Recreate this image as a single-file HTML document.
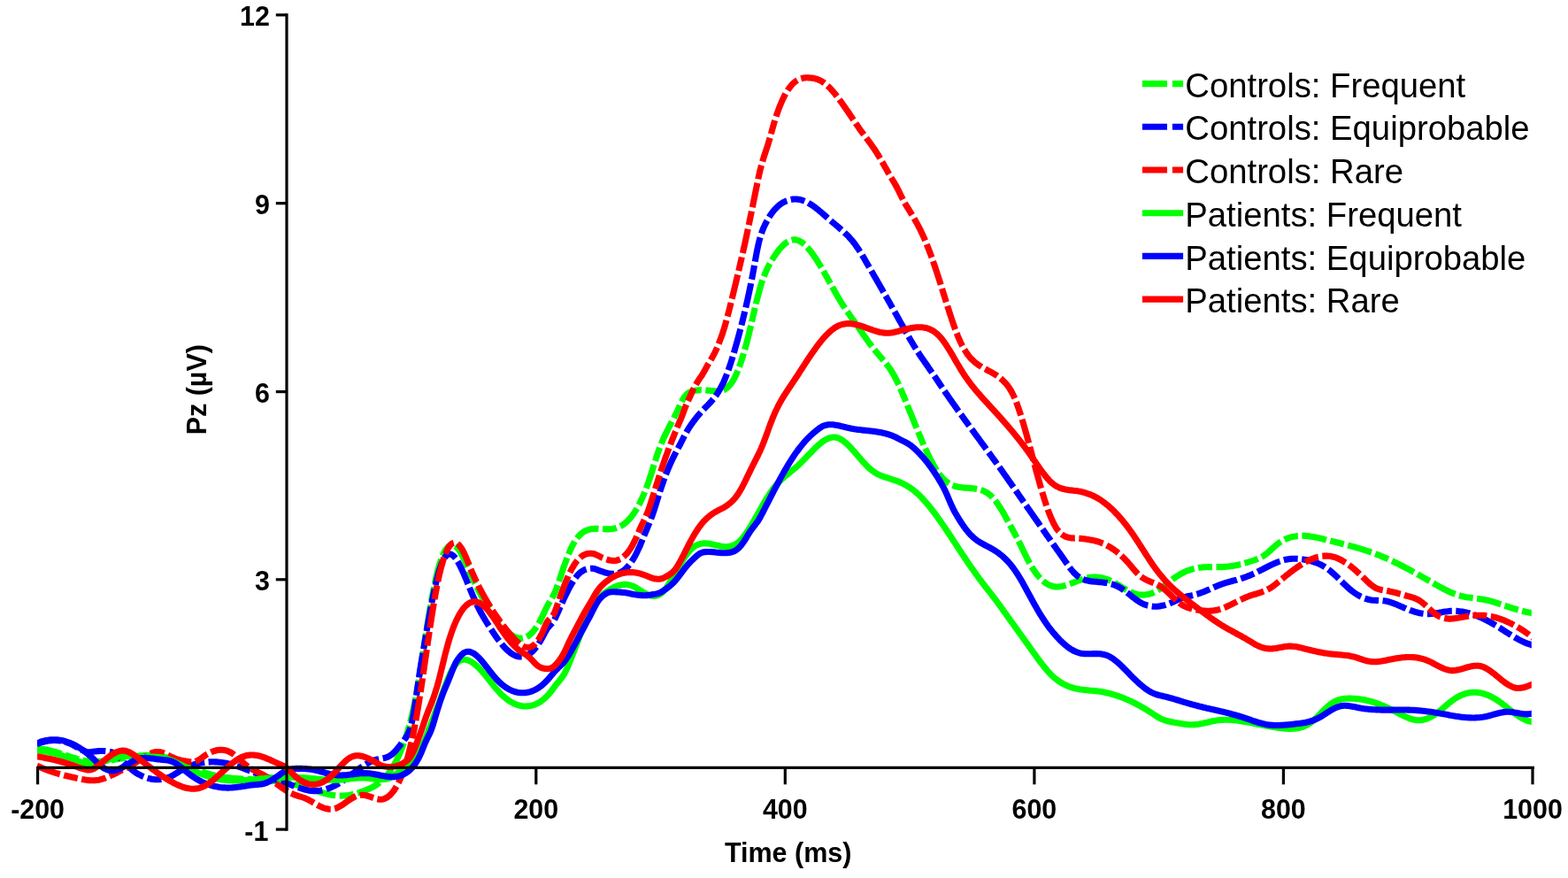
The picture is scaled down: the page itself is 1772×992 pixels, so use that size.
<!DOCTYPE html>
<html lang="en"><head><meta charset="utf-8"><title>Pz ERP</title>
<style>
html,body{margin:0;padding:0;background:#fff;}
body{width:1772px;height:992px;overflow:hidden;}
svg{display:block;}
text{font-family:"Liberation Sans",Arial,Helvetica,sans-serif;fill:#000;}
.b{font-weight:bold;font-size:30.4px;}
.l{font-size:38.27px;}
.c{fill:none;stroke-width:7.1;stroke-linejoin:round;stroke-linecap:butt;}
.d{stroke-dasharray:28 4.5 16 4.5;}
.ax{stroke:#000;stroke-width:3.2;fill:none;stroke-linecap:butt;}
</style></head>
<body>
<svg width="1772" height="992" viewBox="0 0 1772 992">
<rect width="1772" height="992" fill="#fff"/>
<defs><clipPath id="cp"><rect x="42.1" y="0" width="1688.7" height="992"/></clipPath></defs>
<g clip-path="url(#cp)">
<path class="c d" stroke="#00ff00" stroke-dashoffset="-4" d="M38.1,846.2 42.1,846.0 43.6,846.1 45.1,846.2 46.6,846.3 48.1,846.4 49.6,846.6 51.1,846.9 52.6,847.1 54.1,847.4 55.6,847.7 57.1,848.1 58.6,848.5 60.1,848.9 61.6,849.3 63.1,849.7 64.6,850.2 66.1,850.6 67.6,851.1 69.1,851.6 70.6,852.1 72.1,852.6 73.6,853.1 75.1,853.6 76.6,854.1 78.1,854.6 79.6,855.1 81.1,855.6 82.6,856.0 84.1,856.5 85.6,856.9 87.1,857.4 88.6,857.8 90.1,858.2 91.6,858.5 93.1,858.9 94.6,859.2 96.1,859.5 97.6,859.7 99.1,859.9 100.6,860.1 102.1,860.2 103.6,860.4 105.1,860.4 106.6,860.5 108.1,860.5 109.6,860.5 111.1,860.4 112.7,860.4 114.2,860.3 115.7,860.1 117.2,860.0 118.7,859.8 120.2,859.7 121.7,859.5 123.2,859.3 124.7,859.1 126.2,858.8 127.7,858.6 129.2,858.3 130.7,858.1 132.2,857.8 133.7,857.5 135.2,857.3 136.7,857.0 138.2,856.7 139.7,856.5 141.2,856.2 142.7,856.0 144.2,855.7 145.7,855.5 147.2,855.2 148.7,855.0 150.2,854.8 151.7,854.6 153.2,854.4 154.7,854.2 156.2,854.1 157.7,853.9 159.2,853.8 160.7,853.7 162.2,853.6 163.7,853.5 165.2,853.4 166.7,853.4 168.2,853.4 169.7,853.4 171.2,853.4 172.7,853.5 174.2,853.6 175.7,853.7 177.2,853.9 178.7,854.0 180.2,854.2 181.7,854.5 183.2,854.7 184.7,855.0 186.2,855.4 187.7,855.7 189.2,856.2 190.7,856.6 192.2,857.0 193.7,857.5 195.2,858.0 196.7,858.6 198.2,859.1 199.7,859.7 201.2,860.3 202.7,860.9 204.2,861.5 205.7,862.1 207.2,862.8 208.7,863.4 210.2,864.1 211.7,864.7 213.2,865.4 214.7,866.0 216.2,866.7 217.7,867.4 219.2,868.0 220.7,868.6 222.2,869.3 223.7,869.9 225.2,870.5 226.7,871.1 228.2,871.7 229.7,872.3 231.2,872.8 232.7,873.3 234.2,873.8 235.7,874.3 237.2,874.7 238.7,875.2 240.2,875.6 241.7,875.9 243.2,876.3 244.7,876.6 246.2,876.9 247.7,877.2 249.2,877.5 250.7,877.8 252.2,878.0 253.8,878.2 255.3,878.4 256.8,878.6 258.3,878.8 259.8,879.0 261.3,879.1 262.8,879.2 264.3,879.4 265.8,879.5 267.3,879.6 268.8,879.7 270.3,879.8 271.8,879.9 273.3,880.0 274.8,880.1 276.3,880.1 277.8,880.2 279.3,880.3 280.8,880.4 282.3,880.4 283.8,880.5 285.3,880.6 286.8,880.6 288.3,880.7 289.8,880.8 291.3,880.9 292.8,881.0 294.3,881.1 295.8,881.2 297.3,881.3 298.8,881.4 300.3,881.5 301.8,881.6 303.3,881.8 304.8,881.9 306.3,882.1 307.8,882.2 309.3,882.4 310.8,882.6 312.3,882.8 313.8,882.9 315.3,883.1 316.8,883.4 318.3,883.6 319.8,883.8 321.3,884.1 322.8,884.3 324.3,884.6 325.8,884.8 327.3,885.1 328.8,885.4 330.3,885.7 331.8,886.1 333.3,886.4 334.8,886.7 336.3,887.1 337.8,887.5 339.3,887.9 340.8,888.3 342.3,888.7 343.8,889.1 345.3,889.6 346.8,890.0 348.3,890.5 349.8,891.0 351.3,891.5 352.8,892.0 354.3,892.5 355.8,893.0 357.3,893.5 358.8,894.0 360.3,894.4 361.8,894.9 363.3,895.4 364.8,895.8 366.3,896.2 367.8,896.6 369.3,897.0 370.8,897.4 372.3,897.7 373.8,898.0 375.3,898.3 376.8,898.5 378.3,898.7 379.8,898.9 381.3,899.0 382.8,899.1 384.3,899.1 385.8,899.1 387.3,899.0 388.8,899.0 390.3,898.8 391.8,898.7 393.3,898.5 394.9,898.2 396.4,898.0 397.9,897.7 399.4,897.3 400.9,897.0 402.4,896.6 403.9,896.1 405.4,895.7 406.9,895.2 408.4,894.7 409.9,894.1 411.4,893.6 412.9,893.0 414.4,892.4 415.9,891.7 417.4,891.1 418.9,890.4 420.4,889.6 421.9,888.8 423.4,888.0 424.9,887.0 426.4,886.1 427.9,885.0 429.4,883.8 430.9,882.6 432.4,881.2 433.9,879.8 435.4,878.2 436.9,876.5 438.4,874.6 439.9,872.7 441.4,870.5 442.9,868.2 444.4,865.8 445.9,863.2 447.4,860.4 448.9,857.4 450.4,854.2 451.9,850.8 453.4,847.2 454.9,843.4 456.4,839.3 457.9,835.1 459.4,830.5 460.9,825.7 462.4,820.6 463.9,815.0 465.4,809.0 466.9,802.5 468.4,795.4 469.9,787.8 471.4,779.5 472.9,770.7 474.4,761.4 475.9,751.9 477.4,742.1 478.9,732.3 480.4,722.6 481.9,713.0 483.4,703.6 484.9,694.5 486.4,685.6 487.9,677.2 489.4,669.2 490.9,661.6 492.4,654.5 493.9,648.1 495.4,642.2 496.9,637.0 498.4,632.4 499.9,628.4 501.4,625.1 502.9,622.3 504.4,620.0 505.9,618.3 507.4,617.0 508.9,616.2 510.4,615.9 511.9,616.0 513.4,616.4 514.9,617.3 516.4,618.6 517.9,620.2 519.4,622.3 520.9,624.7 522.4,627.5 523.9,630.6 525.4,633.9 526.9,637.3 528.4,640.8 529.9,644.3 531.4,647.8 532.9,651.1 534.4,654.4 536.0,657.6 537.5,660.6 539.0,663.6 540.5,666.6 542.0,669.4 543.5,672.1 545.0,674.8 546.5,677.4 548.0,680.0 549.5,682.5 551.0,684.9 552.5,687.2 554.0,689.5 555.5,691.8 557.0,694.0 558.5,696.1 560.0,698.2 561.5,700.3 563.0,702.2 564.5,704.1 566.0,706.0 567.5,707.7 569.0,709.4 570.5,711.0 572.0,712.5 573.5,713.9 575.0,715.2 576.5,716.4 578.0,717.4 579.5,718.4 581.0,719.2 582.5,719.9 584.0,720.4 585.5,720.8 587.0,721.1 588.5,721.1 590.0,721.1 591.5,720.8 593.0,720.4 594.5,719.8 596.0,719.0 597.5,718.1 599.0,716.9 600.5,715.6 602.0,714.0 603.5,712.2 605.0,710.2 606.5,708.0 608.0,705.6 609.5,703.0 611.0,700.2 612.5,697.2 614.0,694.1 615.5,690.7 617.0,687.6 618.5,684.7 620.0,682.0 621.5,679.5 623.0,677.0 624.5,674.4 626.0,671.5 627.5,668.2 629.0,664.5 630.5,660.2 632.0,655.8 633.5,651.3 635.0,646.9 636.5,642.5 638.0,638.2 639.5,634.1 641.0,630.1 642.5,626.2 644.0,622.6 645.5,619.3 647.0,616.2 648.5,613.5 650.0,611.0 651.5,608.8 653.0,606.9 654.5,605.2 656.0,603.7 657.5,602.4 659.0,601.3 660.5,600.4 662.0,599.6 663.5,599.0 665.0,598.5 666.5,598.1 668.0,597.8 669.5,597.6 671.0,597.5 672.5,597.4 674.0,597.4 675.6,597.4 677.1,597.5 678.6,597.6 680.1,597.6 681.6,597.7 683.1,597.8 684.6,597.9 686.1,597.9 687.6,597.9 689.1,597.8 690.6,597.7 692.1,597.5 693.6,597.3 695.1,596.9 696.6,596.5 698.1,595.9 699.6,595.3 701.1,594.6 702.6,593.7 704.1,592.8 705.6,591.7 707.1,590.5 708.6,589.1 710.1,587.6 711.6,586.0 713.1,584.3 714.6,582.3 716.1,580.2 717.6,578.0 719.1,575.6 720.6,573.0 722.1,570.2 723.6,567.3 725.1,564.1 726.6,560.8 728.1,557.3 729.6,553.5 731.1,549.6 732.6,545.4 734.1,541.0 735.6,536.4 737.1,531.6 738.6,526.8 740.1,522.0 741.6,517.3 743.1,512.7 744.6,508.4 746.1,504.4 747.6,500.6 749.1,497.1 750.6,493.7 752.1,490.6 753.6,487.5 755.1,484.5 756.6,481.6 758.1,478.7 759.6,475.9 761.1,473.0 762.6,470.0 764.1,467.0 765.6,464.0 767.1,460.8 768.6,457.5 770.1,454.4 771.6,451.5 773.1,449.0 774.6,447.1 776.1,445.5 777.6,444.3 779.1,443.4 780.6,442.7 782.1,442.2 783.6,441.7 785.1,441.4 786.6,441.1 788.1,440.9 789.6,440.7 791.1,440.6 792.6,440.6 794.1,440.7 795.6,440.7 797.1,440.8 798.6,441.0 800.1,441.1 801.6,441.3 803.1,441.4 804.6,441.6 806.1,441.8 807.6,441.9 809.1,442.0 810.6,442.0 812.1,442.0 813.6,441.8 815.1,441.5 816.7,441.0 818.2,440.4 819.7,439.6 821.2,438.6 822.7,437.3 824.2,435.8 825.7,434.0 827.2,431.9 828.7,429.5 830.2,426.7 831.7,423.6 833.2,420.2 834.7,416.5 836.2,412.4 837.7,408.1 839.2,403.4 840.7,398.5 842.2,393.2 843.7,387.7 845.2,381.9 846.7,375.8 848.2,369.5 849.7,363.0 851.2,356.5 852.7,350.1 854.2,343.7 855.7,337.6 857.2,331.8 858.7,326.3 860.2,321.2 861.7,316.7 863.2,312.5 864.7,308.8 866.2,305.3 867.7,302.2 869.2,299.3 870.7,296.6 872.2,294.1 873.7,291.7 875.2,289.4 876.7,287.2 878.2,285.1 879.7,283.1 881.2,281.3 882.7,279.5 884.2,278.0 885.7,276.5 887.2,275.2 888.7,274.1 890.2,273.1 891.7,272.3 893.2,271.6 894.7,271.2 896.2,270.9 897.7,270.8 899.2,270.9 900.7,271.3 902.2,271.8 903.7,272.5 905.2,273.3 906.7,274.3 908.2,275.5 909.7,276.8 911.2,278.3 912.7,279.9 914.2,281.6 915.7,283.5 917.2,285.4 918.7,287.5 920.2,289.6 921.7,291.8 923.2,294.1 924.7,296.5 926.2,299.0 927.7,301.5 929.2,304.0 930.7,306.6 932.2,309.2 933.7,311.9 935.2,314.5 936.7,317.2 938.2,319.9 939.7,322.6 941.2,325.3 942.7,328.0 944.2,330.7 945.7,333.4 947.2,336.0 948.7,338.5 950.2,341.0 951.7,343.4 953.2,345.7 954.7,348.0 956.2,350.3 957.8,352.4 959.3,354.6 960.8,356.7 962.3,358.9 963.8,361.0 965.3,363.1 966.8,365.2 968.3,367.3 969.8,369.5 971.3,371.6 972.8,373.8 974.3,376.0 975.8,378.3 977.3,380.4 978.8,382.6 980.3,384.7 981.8,386.8 983.3,388.8 984.8,390.8 986.3,392.7 987.8,394.6 989.3,396.4 990.8,398.2 992.3,400.0 993.8,401.8 995.3,403.5 996.8,405.3 998.3,407.0 999.8,408.8 1001.3,410.7 1002.8,412.6 1004.3,414.6 1005.8,416.8 1007.3,419.1 1008.8,421.5 1010.3,424.1 1011.8,426.8 1013.3,429.8 1014.8,432.9 1016.3,436.1 1017.8,439.5 1019.3,443.0 1020.8,446.5 1022.3,450.2 1023.8,453.9 1025.3,457.6 1026.8,461.3 1028.3,465.1 1029.8,468.7 1031.3,472.4 1032.8,476.1 1034.3,479.8 1035.8,483.4 1037.3,487.1 1038.8,490.8 1040.3,494.4 1041.8,497.9 1043.3,501.4 1044.8,504.8 1046.3,508.2 1047.8,511.4 1049.3,514.5 1050.8,517.6 1052.3,520.5 1053.8,523.3 1055.3,526.0 1056.8,528.5 1058.3,530.9 1059.8,533.2 1061.3,535.3 1062.8,537.3 1064.3,539.1 1065.8,540.8 1067.3,542.2 1068.8,543.6 1070.3,544.8 1071.8,545.8 1073.3,546.7 1074.8,547.5 1076.3,548.2 1077.8,548.8 1079.3,549.3 1080.8,549.8 1082.3,550.1 1083.8,550.4 1085.3,550.6 1086.8,550.8 1088.3,551.0 1089.8,551.1 1091.3,551.2 1092.8,551.3 1094.3,551.4 1095.8,551.5 1097.3,551.6 1098.9,551.8 1100.4,551.9 1101.9,552.1 1103.4,552.4 1104.9,552.7 1106.4,553.0 1107.9,553.4 1109.4,553.9 1110.9,554.5 1112.4,555.1 1113.9,555.9 1115.4,556.8 1116.9,557.8 1118.4,558.9 1119.9,560.2 1121.4,561.7 1122.9,563.3 1124.4,565.2 1125.9,567.1 1127.4,569.2 1128.9,571.4 1130.4,573.8 1131.9,576.2 1133.4,578.7 1134.9,581.3 1136.4,584.0 1137.9,586.7 1139.4,589.4 1140.9,592.2 1142.4,595.0 1143.9,597.8 1145.4,600.5 1146.9,603.3 1148.4,606.1 1149.9,608.9 1151.4,611.9 1152.9,614.8 1154.4,617.9 1155.9,621.0 1157.4,624.1 1158.9,627.2 1160.4,630.3 1161.9,633.2 1163.4,636.0 1164.9,638.6 1166.4,641.1 1167.9,643.5 1169.4,645.7 1170.9,647.8 1172.4,649.7 1173.9,651.5 1175.4,653.2 1176.9,654.7 1178.4,656.1 1179.9,657.4 1181.4,658.5 1182.9,659.5 1184.4,660.4 1185.9,661.1 1187.4,661.7 1188.9,662.2 1190.4,662.6 1191.9,662.9 1193.4,663.0 1194.9,663.0 1196.4,663.0 1197.9,662.8 1199.4,662.6 1200.9,662.3 1202.4,661.9 1203.9,661.5 1205.4,661.0 1206.9,660.5 1208.4,660.0 1209.9,659.4 1211.4,658.9 1212.9,658.3 1214.4,657.7 1215.9,657.1 1217.4,656.5 1218.9,656.0 1220.4,655.4 1221.9,654.9 1223.4,654.4 1224.9,653.9 1226.4,653.5 1227.9,653.1 1229.4,652.8 1230.9,652.5 1232.4,652.3 1233.9,652.2 1235.4,652.1 1236.9,652.0 1238.5,652.1 1240.0,652.2 1241.5,652.3 1243.0,652.5 1244.5,652.8 1246.0,653.1 1247.5,653.5 1249.0,653.9 1250.5,654.4 1252.0,654.9 1253.5,655.5 1255.0,656.2 1256.5,656.9 1258.0,657.7 1259.5,658.5 1261.0,659.4 1262.5,660.2 1264.0,661.1 1265.5,662.0 1267.0,663.0 1268.5,663.9 1270.0,664.8 1271.5,665.6 1273.0,666.5 1274.5,667.3 1276.0,668.1 1277.5,668.8 1279.0,669.4 1280.5,670.0 1282.0,670.5 1283.5,671.0 1285.0,671.4 1286.5,671.7 1288.0,671.9 1289.5,672.0 1291.0,672.1 1292.5,672.1 1294.0,672.0 1295.5,671.8 1297.0,671.6 1298.5,671.3 1300.0,670.8 1301.5,670.3 1303.0,669.8 1304.5,669.1 1306.0,668.3 1307.5,667.5 1309.0,666.6 1310.5,665.6 1312.0,664.6 1313.5,663.5 1315.0,662.4 1316.5,661.3 1318.0,660.1 1319.5,659.0 1321.0,657.8 1322.5,656.6 1324.0,655.5 1325.5,654.3 1327.0,653.2 1328.5,652.1 1330.0,651.1 1331.5,650.2 1333.0,649.2 1334.5,648.4 1336.0,647.6 1337.5,646.8 1339.0,646.1 1340.5,645.4 1342.0,644.8 1343.5,644.3 1345.0,643.8 1346.5,643.3 1348.0,642.9 1349.5,642.5 1351.0,642.1 1352.5,641.8 1354.0,641.6 1355.5,641.3 1357.0,641.2 1358.5,641.0 1360.0,640.9 1361.5,640.8 1363.0,640.7 1364.5,640.7 1366.0,640.6 1367.5,640.6 1369.0,640.6 1370.5,640.6 1372.0,640.6 1373.5,640.6 1375.0,640.6 1376.5,640.6 1378.0,640.6 1379.6,640.6 1381.1,640.6 1382.6,640.5 1384.1,640.4 1385.6,640.3 1387.1,640.2 1388.6,640.0 1390.1,639.8 1391.6,639.6 1393.1,639.4 1394.6,639.1 1396.1,638.9 1397.6,638.6 1399.1,638.2 1400.6,637.9 1402.1,637.5 1403.6,637.2 1405.1,636.8 1406.6,636.3 1408.1,635.9 1409.6,635.5 1411.1,635.0 1412.6,634.5 1414.1,634.0 1415.6,633.5 1417.1,633.0 1418.6,632.5 1420.1,631.9 1421.6,631.3 1423.1,630.6 1424.6,629.9 1426.1,629.1 1427.6,628.2 1429.1,627.2 1430.6,626.1 1432.1,624.9 1433.6,623.6 1435.1,622.3 1436.6,620.9 1438.1,619.5 1439.6,618.2 1441.1,616.8 1442.6,615.6 1444.1,614.4 1445.6,613.3 1447.1,612.3 1448.6,611.4 1450.1,610.5 1451.6,609.7 1453.1,609.0 1454.6,608.4 1456.1,607.8 1457.6,607.3 1459.1,606.9 1460.6,606.5 1462.1,606.2 1463.6,605.9 1465.1,605.7 1466.6,605.5 1468.1,605.4 1469.6,605.3 1471.1,605.3 1472.6,605.3 1474.1,605.4 1475.6,605.5 1477.1,605.6 1478.6,605.8 1480.1,605.9 1481.6,606.2 1483.1,606.4 1484.6,606.7 1486.1,607.0 1487.6,607.3 1489.1,607.6 1490.6,607.9 1492.1,608.3 1493.6,608.6 1495.1,609.0 1496.6,609.4 1498.1,609.7 1499.6,610.1 1501.1,610.5 1502.6,610.8 1504.1,611.2 1505.6,611.6 1507.1,611.9 1508.6,612.3 1510.1,612.7 1511.6,613.1 1513.1,613.4 1514.6,613.8 1516.1,614.2 1517.6,614.6 1519.1,615.0 1520.7,615.4 1522.2,615.7 1523.7,616.1 1525.2,616.5 1526.7,617.0 1528.2,617.4 1529.7,617.8 1531.2,618.2 1532.7,618.6 1534.2,619.1 1535.7,619.5 1537.2,620.0 1538.7,620.4 1540.2,620.9 1541.7,621.4 1543.2,621.9 1544.7,622.3 1546.2,622.8 1547.7,623.4 1549.2,623.9 1550.7,624.4 1552.2,625.0 1553.7,625.5 1555.2,626.1 1556.7,626.7 1558.2,627.2 1559.7,627.8 1561.2,628.5 1562.7,629.1 1564.2,629.7 1565.7,630.4 1567.2,631.0 1568.7,631.7 1570.2,632.4 1571.7,633.1 1573.2,633.8 1574.7,634.5 1576.2,635.2 1577.7,636.0 1579.2,636.7 1580.7,637.4 1582.2,638.2 1583.7,639.0 1585.2,639.7 1586.7,640.5 1588.2,641.3 1589.7,642.1 1591.2,642.9 1592.7,643.7 1594.2,644.5 1595.7,645.3 1597.2,646.2 1598.7,647.0 1600.2,647.8 1601.7,648.6 1603.2,649.5 1604.7,650.3 1606.2,651.2 1607.7,652.0 1609.2,652.9 1610.7,653.7 1612.2,654.6 1613.7,655.4 1615.2,656.3 1616.7,657.1 1618.2,658.0 1619.7,658.9 1621.2,659.7 1622.7,660.6 1624.2,661.4 1625.7,662.3 1627.2,663.1 1628.7,663.9 1630.2,664.7 1631.7,665.5 1633.2,666.3 1634.7,667.0 1636.2,667.8 1637.7,668.5 1639.2,669.2 1640.7,669.8 1642.2,670.4 1643.7,671.0 1645.2,671.6 1646.7,672.1 1648.2,672.6 1649.7,673.0 1651.2,673.4 1652.7,673.8 1654.2,674.1 1655.7,674.4 1657.2,674.7 1658.7,674.9 1660.2,675.1 1661.8,675.3 1663.3,675.5 1664.8,675.7 1666.3,675.9 1667.8,676.1 1669.3,676.3 1670.8,676.5 1672.3,676.7 1673.8,676.9 1675.3,677.1 1676.8,677.4 1678.3,677.7 1679.8,678.0 1681.3,678.3 1682.8,678.7 1684.3,679.1 1685.8,679.5 1687.3,679.9 1688.8,680.3 1690.3,680.8 1691.8,681.3 1693.3,681.8 1694.8,682.3 1696.3,682.8 1697.8,683.3 1699.3,683.8 1700.8,684.3 1702.3,684.8 1703.8,685.3 1705.3,685.8 1706.8,686.3 1708.3,686.8 1709.8,687.3 1711.3,687.8 1712.8,688.2 1714.3,688.7 1715.8,689.1 1717.3,689.5 1718.8,689.9 1720.3,690.3 1721.8,690.7 1723.3,691.1 1724.8,691.4 1726.3,691.7 1727.8,692.0 1729.3,692.3 1730.8,692.6 1734.8,693.3"/>
<path class="c d" stroke="#0000ff" stroke-dashoffset="-4" d="M38.1,842.3 42.1,840.6 43.6,840.0 45.1,839.5 46.6,839.0 48.1,838.5 49.6,838.1 51.1,837.7 52.6,837.4 54.1,837.1 55.6,836.9 57.1,836.7 58.6,836.6 60.1,836.5 61.6,836.5 63.1,836.5 64.6,836.6 66.1,836.7 67.6,836.9 69.1,837.1 70.6,837.4 72.1,837.8 73.6,838.2 75.1,838.6 76.6,839.1 78.1,839.7 79.6,840.4 81.1,841.1 82.6,841.8 84.1,842.6 85.6,843.5 87.1,844.3 88.6,845.2 90.1,846.0 91.6,846.8 93.1,847.6 94.6,848.3 96.1,848.9 97.6,849.4 99.1,849.7 100.6,849.8 102.1,849.7 103.6,849.5 105.1,849.3 106.6,849.1 108.1,848.9 109.6,848.7 111.1,848.6 112.7,848.5 114.2,848.5 115.7,848.5 117.2,848.5 118.7,848.6 120.2,848.7 121.7,848.9 123.2,849.1 124.7,849.4 126.2,849.8 127.7,850.4 129.2,851.1 130.7,852.0 132.2,853.2 133.7,854.5 135.2,856.0 136.7,857.6 138.2,859.2 139.7,860.9 141.2,862.5 142.7,864.0 144.2,865.4 145.7,866.8 147.2,868.1 148.7,869.4 150.2,870.6 151.7,871.7 153.2,872.7 154.7,873.7 156.2,874.6 157.7,875.4 159.2,876.2 160.7,876.9 162.2,877.5 163.7,878.1 165.2,878.6 166.7,879.1 168.2,879.5 169.7,879.8 171.2,880.2 172.7,880.4 174.2,880.6 175.7,880.7 177.2,880.8 178.7,880.8 180.2,880.8 181.7,880.6 183.2,880.4 184.7,880.2 186.2,879.8 187.7,879.4 189.2,878.9 190.7,878.3 192.2,877.7 193.7,876.9 195.2,876.1 196.7,875.3 198.2,874.3 199.7,873.4 201.2,872.5 202.7,871.5 204.2,870.6 205.7,869.7 207.2,868.9 208.7,868.1 210.2,867.3 211.7,866.6 213.2,866.0 214.7,865.4 216.2,864.8 217.7,864.3 219.2,863.8 220.7,863.4 222.2,863.0 223.7,862.7 225.2,862.3 226.7,862.0 228.2,861.8 229.7,861.6 231.2,861.4 232.7,861.2 234.2,861.1 235.7,860.9 237.2,860.9 238.7,860.8 240.2,860.8 241.7,860.8 243.2,860.9 244.7,860.9 246.2,861.0 247.7,861.2 249.2,861.3 250.7,861.5 252.2,861.7 253.8,862.0 255.3,862.3 256.8,862.6 258.3,862.9 259.8,863.3 261.3,863.7 262.8,864.1 264.3,864.5 265.8,865.0 267.3,865.4 268.8,865.9 270.3,866.4 271.8,866.9 273.3,867.5 274.8,868.0 276.3,868.6 277.8,869.1 279.3,869.7 280.8,870.3 282.3,870.9 283.8,871.4 285.3,872.0 286.8,872.6 288.3,873.2 289.8,873.7 291.3,874.3 292.8,874.9 294.3,875.4 295.8,876.0 297.3,876.5 298.8,877.0 300.3,877.5 301.8,878.0 303.3,878.5 304.8,879.0 306.3,879.4 307.8,879.9 309.3,880.3 310.8,880.8 312.3,881.2 313.8,881.7 315.3,882.1 316.8,882.6 318.3,883.0 319.8,883.5 321.3,884.0 322.8,884.5 324.3,885.0 325.8,885.6 327.3,886.1 328.8,886.7 330.3,887.3 331.8,887.8 333.3,888.4 334.8,888.9 336.3,889.5 337.8,890.0 339.3,890.5 340.8,891.0 342.3,891.5 343.8,891.9 345.3,892.3 346.8,892.6 348.3,892.9 349.8,893.2 351.3,893.4 352.8,893.5 354.3,893.6 355.8,893.6 357.3,893.6 358.8,893.5 360.3,893.4 361.8,893.2 363.3,892.9 364.8,892.6 366.3,892.3 367.8,891.9 369.3,891.4 370.8,890.9 372.3,890.4 373.8,889.8 375.3,889.1 376.8,888.4 378.3,887.7 379.8,886.9 381.3,886.0 382.8,885.2 384.3,884.2 385.8,883.3 387.3,882.3 388.8,881.2 390.3,880.2 391.8,879.1 393.3,878.0 394.9,876.8 396.4,875.7 397.9,874.5 399.4,873.4 400.9,872.3 402.4,871.1 403.9,870.0 405.4,868.9 406.9,867.8 408.4,866.8 409.9,865.8 411.4,864.8 412.9,863.8 414.4,862.9 415.9,862.1 417.4,861.3 418.9,860.6 420.4,859.9 421.9,859.3 423.4,858.8 424.9,858.4 426.4,858.0 427.9,857.7 429.4,857.4 430.9,857.2 432.4,856.9 433.9,856.6 435.4,856.2 436.9,855.7 438.4,855.1 439.9,854.3 441.4,853.4 442.9,852.3 444.4,851.0 445.9,849.5 447.4,847.9 448.9,846.1 450.4,844.3 451.9,842.4 453.4,840.4 454.9,838.5 456.4,836.6 457.9,834.5 459.4,832.2 460.9,829.5 462.4,826.2 463.9,822.0 465.4,816.2 466.9,808.9 468.4,800.2 469.9,790.4 471.4,779.9 472.9,769.4 474.4,759.2 475.9,749.8 477.4,740.9 478.9,732.0 480.4,723.0 481.9,714.2 483.4,705.6 484.9,697.1 486.4,689.0 487.9,681.1 489.4,673.6 490.9,666.4 492.4,659.8 493.9,653.6 495.4,648.1 496.9,643.1 498.4,638.7 499.9,635.0 501.4,631.9 502.9,629.5 504.4,627.7 505.9,626.6 507.4,626.0 508.9,626.0 510.4,626.6 511.9,627.6 513.4,629.0 514.9,630.8 516.4,633.0 517.9,635.5 519.4,638.3 520.9,641.3 522.4,644.6 523.9,647.9 525.4,651.4 526.9,655.0 528.4,658.6 529.9,662.3 531.4,666.0 532.9,669.7 534.4,673.2 536.0,676.7 537.5,680.1 539.0,683.4 540.5,686.4 542.0,689.4 543.5,692.2 545.0,694.9 546.5,697.5 548.0,700.0 549.5,702.5 551.0,704.9 552.5,707.2 554.0,709.5 555.5,711.8 557.0,714.1 558.5,716.3 560.0,718.5 561.5,720.6 563.0,722.6 564.5,724.6 566.0,726.5 567.5,728.4 569.0,730.1 570.5,731.8 572.0,733.3 573.5,734.7 575.0,736.1 576.5,737.3 578.0,738.4 579.5,739.3 581.0,740.1 582.5,740.8 584.0,741.3 585.5,741.7 587.0,741.9 588.5,742.0 590.0,742.0 591.5,741.8 593.0,741.4 594.5,740.8 596.0,740.1 597.5,739.3 599.0,738.2 600.5,737.0 602.0,735.7 603.5,734.1 605.0,732.4 606.5,730.5 608.0,728.4 609.5,726.1 611.0,723.6 612.5,721.0 614.0,718.2 615.5,715.4 617.0,712.5 618.5,710.1 620.0,708.2 621.5,706.6 623.0,705.1 624.5,703.3 626.0,701.2 627.5,698.4 629.0,695.1 630.5,691.7 632.0,688.3 633.5,685.0 635.0,681.6 636.5,678.3 638.0,675.1 639.5,671.9 641.0,668.9 642.5,665.9 644.0,663.1 645.5,660.4 647.0,657.9 648.5,655.5 650.0,653.3 651.5,651.3 653.0,649.6 654.5,648.1 656.0,646.7 657.5,645.6 659.0,644.7 660.5,643.9 662.0,643.3 663.5,642.8 665.0,642.5 666.5,642.3 668.0,642.2 669.5,642.3 671.0,642.5 672.5,642.8 674.0,643.3 675.6,644.0 677.1,644.6 678.6,645.2 680.1,645.7 681.6,646.2 683.1,646.7 684.6,647.1 686.1,647.5 687.6,647.8 689.1,648.0 690.6,648.2 692.1,648.3 693.6,648.4 695.1,648.3 696.6,648.1 698.1,647.7 699.6,647.3 701.1,646.7 702.6,645.9 704.1,645.0 705.6,643.9 707.1,642.6 708.6,641.1 710.1,639.4 711.6,637.6 713.1,635.5 714.6,633.3 716.1,630.8 717.6,628.2 719.1,625.4 720.6,622.3 722.1,619.1 723.6,615.7 725.1,612.0 726.6,608.3 728.1,604.7 729.6,601.1 731.1,597.6 732.6,594.0 734.1,590.4 735.6,586.6 737.1,582.5 738.6,578.2 740.1,573.5 741.6,568.6 743.1,563.8 744.6,559.1 746.1,554.4 747.6,549.9 749.1,545.5 750.6,541.2 752.1,537.2 753.6,533.3 755.1,529.7 756.6,526.1 758.1,522.8 759.6,519.5 761.1,516.4 762.6,513.4 764.1,510.6 765.6,507.8 767.1,504.9 768.6,502.0 770.1,499.1 771.6,496.1 773.1,493.2 774.6,490.3 776.1,487.6 777.6,485.1 779.1,482.7 780.6,480.5 782.1,478.4 783.6,476.3 785.1,474.3 786.6,472.4 788.1,470.5 789.6,468.7 791.1,467.0 792.6,465.3 794.1,463.6 795.6,462.1 797.1,460.5 798.6,459.0 800.1,457.5 801.6,455.9 803.1,454.3 804.6,452.6 806.1,450.8 807.6,448.9 809.1,446.9 810.6,444.7 812.1,442.3 813.6,439.7 815.1,437.0 816.7,433.9 818.2,430.7 819.7,427.1 821.2,423.3 822.7,419.3 824.2,415.0 825.7,410.5 827.2,405.8 828.7,400.9 830.2,395.8 831.7,390.6 833.2,385.2 834.7,379.7 836.2,374.1 837.7,368.3 839.2,362.4 840.7,356.2 842.2,349.9 843.7,343.4 845.2,336.7 846.7,329.7 848.2,322.5 849.7,315.0 851.2,307.1 852.7,298.8 854.2,290.4 855.7,282.4 857.2,275.4 858.7,269.5 860.2,264.5 861.7,260.3 863.2,256.7 864.7,253.5 866.2,250.6 867.7,247.8 869.2,245.3 870.7,243.0 872.2,240.8 873.7,238.8 875.2,237.0 876.7,235.4 878.2,233.9 879.7,232.5 881.2,231.3 882.7,230.2 884.2,229.3 885.7,228.4 887.2,227.7 888.7,227.0 890.2,226.5 891.7,226.0 893.2,225.6 894.7,225.3 896.2,225.1 897.7,225.0 899.2,225.0 900.7,225.1 902.2,225.3 903.7,225.5 905.2,225.9 906.7,226.3 908.2,226.8 909.7,227.4 911.2,228.1 912.7,228.8 914.2,229.7 915.7,230.6 917.2,231.5 918.7,232.5 920.2,233.6 921.7,234.7 923.2,235.9 924.7,237.1 926.2,238.4 927.7,239.6 929.2,240.9 930.7,242.2 932.2,243.5 933.7,244.8 935.2,246.2 936.7,247.5 938.2,248.8 939.7,250.1 941.2,251.4 942.7,252.6 944.2,253.9 945.7,255.1 947.2,256.4 948.7,257.7 950.2,259.0 951.7,260.3 953.2,261.7 954.7,263.1 956.2,264.5 957.8,266.1 959.3,267.6 960.8,269.3 962.3,271.0 963.8,272.8 965.3,274.7 966.8,276.7 968.3,278.9 969.8,281.1 971.3,283.4 972.8,285.8 974.3,288.2 975.8,290.7 977.3,293.3 978.8,295.8 980.3,298.4 981.8,301.0 983.3,303.6 984.8,306.2 986.3,308.8 987.8,311.4 989.3,314.0 990.8,316.6 992.3,319.2 993.8,321.8 995.3,324.4 996.8,327.0 998.3,329.7 999.8,332.3 1001.3,334.9 1002.8,337.6 1004.3,340.2 1005.8,342.9 1007.3,345.6 1008.8,348.3 1010.3,350.9 1011.8,353.6 1013.3,356.3 1014.8,359.0 1016.3,361.7 1017.8,364.4 1019.3,367.0 1020.8,369.7 1022.3,372.4 1023.8,375.0 1025.3,377.6 1026.8,380.3 1028.3,382.9 1029.8,385.5 1031.3,388.0 1032.8,390.5 1034.3,392.9 1035.8,395.3 1037.3,397.7 1038.8,399.9 1040.3,402.2 1041.8,404.4 1043.3,406.6 1044.8,408.8 1046.3,410.9 1047.8,413.1 1049.3,415.2 1050.8,417.4 1052.3,419.5 1053.8,421.7 1055.3,423.9 1056.8,426.1 1058.3,428.3 1059.8,430.5 1061.3,432.8 1062.8,435.0 1064.3,437.3 1065.8,439.5 1067.3,441.7 1068.8,443.9 1070.3,446.1 1071.8,448.2 1073.3,450.4 1074.8,452.6 1076.3,454.7 1077.8,456.8 1079.3,458.9 1080.8,461.1 1082.3,463.2 1083.8,465.3 1085.3,467.4 1086.8,469.4 1088.3,471.5 1089.8,473.6 1091.3,475.7 1092.8,477.7 1094.3,479.8 1095.8,481.9 1097.3,483.9 1098.9,486.0 1100.4,488.0 1101.9,490.1 1103.4,492.1 1104.9,494.2 1106.4,496.2 1107.9,498.3 1109.4,500.3 1110.9,502.3 1112.4,504.4 1113.9,506.5 1115.4,508.5 1116.9,510.6 1118.4,512.6 1119.9,514.7 1121.4,516.8 1122.9,518.8 1124.4,520.9 1125.9,523.0 1127.4,525.1 1128.9,527.2 1130.4,529.3 1131.9,531.4 1133.4,533.5 1134.9,535.7 1136.4,537.8 1137.9,539.9 1139.4,542.0 1140.9,544.2 1142.4,546.3 1143.9,548.5 1145.4,550.6 1146.9,552.8 1148.4,554.9 1149.9,557.1 1151.4,559.2 1152.9,561.4 1154.4,563.6 1155.9,565.7 1157.4,567.9 1158.9,570.0 1160.4,572.2 1161.9,574.4 1163.4,576.5 1164.9,578.7 1166.4,580.8 1167.9,583.0 1169.4,585.1 1170.9,587.3 1172.4,589.4 1173.9,591.6 1175.4,593.7 1176.9,595.9 1178.4,598.0 1179.9,600.1 1181.4,602.2 1182.9,604.4 1184.4,606.5 1185.9,608.6 1187.4,610.7 1188.9,612.8 1190.4,615.0 1191.9,617.1 1193.4,619.2 1194.9,621.4 1196.4,623.5 1197.9,625.6 1199.4,627.8 1200.9,629.9 1202.4,632.1 1203.9,634.3 1205.4,636.4 1206.9,638.5 1208.4,640.6 1209.9,642.6 1211.4,644.5 1212.9,646.2 1214.4,647.8 1215.9,649.2 1217.4,650.5 1218.9,651.6 1220.4,652.6 1221.9,653.5 1223.4,654.2 1224.9,654.8 1226.4,655.3 1227.9,655.8 1229.4,656.1 1230.9,656.4 1232.4,656.7 1233.9,656.9 1235.4,657.0 1236.9,657.2 1238.5,657.3 1240.0,657.4 1241.5,657.6 1243.0,657.7 1244.5,657.8 1246.0,658.0 1247.5,658.2 1249.0,658.4 1250.5,658.6 1252.0,658.9 1253.5,659.2 1255.0,659.6 1256.5,660.0 1258.0,660.4 1259.5,661.0 1261.0,661.6 1262.5,662.2 1264.0,663.0 1265.5,663.8 1267.0,664.7 1268.5,665.7 1270.0,666.7 1271.5,667.8 1273.0,669.0 1274.5,670.1 1276.0,671.3 1277.5,672.5 1279.0,673.7 1280.5,674.9 1282.0,676.0 1283.5,677.2 1285.0,678.2 1286.5,679.3 1288.0,680.2 1289.5,681.1 1291.0,681.9 1292.5,682.6 1294.0,683.2 1295.5,683.7 1297.0,684.2 1298.5,684.5 1300.0,684.8 1301.5,685.0 1303.0,685.2 1304.5,685.2 1306.0,685.2 1307.5,685.2 1309.0,685.1 1310.5,684.9 1312.0,684.6 1313.5,684.3 1315.0,684.0 1316.5,683.6 1318.0,683.1 1319.5,682.6 1321.0,682.1 1322.5,681.5 1324.0,680.9 1325.5,680.2 1327.0,679.5 1328.5,678.8 1330.0,678.1 1331.5,677.4 1333.0,676.8 1334.5,676.1 1336.0,675.5 1337.5,675.0 1339.0,674.6 1340.5,674.2 1342.0,673.8 1343.5,673.5 1345.0,673.2 1346.5,672.9 1348.0,672.6 1349.5,672.2 1351.0,671.8 1352.5,671.4 1354.0,670.9 1355.5,670.4 1357.0,669.9 1358.5,669.3 1360.0,668.7 1361.5,668.1 1363.0,667.5 1364.5,666.8 1366.0,666.2 1367.5,665.5 1369.0,664.8 1370.5,664.2 1372.0,663.5 1373.5,662.9 1375.0,662.2 1376.5,661.6 1378.0,661.0 1379.6,660.4 1381.1,659.9 1382.6,659.4 1384.1,658.9 1385.6,658.4 1387.1,658.0 1388.6,657.5 1390.1,657.1 1391.6,656.7 1393.1,656.3 1394.6,655.9 1396.1,655.5 1397.6,655.1 1399.1,654.6 1400.6,654.2 1402.1,653.8 1403.6,653.3 1405.1,652.8 1406.6,652.3 1408.1,651.8 1409.6,651.2 1411.1,650.7 1412.6,650.0 1414.1,649.4 1415.6,648.7 1417.1,648.0 1418.6,647.3 1420.1,646.6 1421.6,645.8 1423.1,645.1 1424.6,644.3 1426.1,643.6 1427.6,642.8 1429.1,642.0 1430.6,641.3 1432.1,640.5 1433.6,639.7 1435.1,639.0 1436.6,638.3 1438.1,637.6 1439.6,636.9 1441.1,636.3 1442.6,635.6 1444.1,635.0 1445.6,634.5 1447.1,634.0 1448.6,633.5 1450.1,633.0 1451.6,632.6 1453.1,632.3 1454.6,632.0 1456.1,631.7 1457.6,631.5 1459.1,631.4 1460.6,631.3 1462.1,631.2 1463.6,631.2 1465.1,631.3 1466.6,631.3 1468.1,631.4 1469.6,631.6 1471.1,631.8 1472.6,632.0 1474.1,632.2 1475.6,632.5 1477.1,632.8 1478.6,633.2 1480.1,633.5 1481.6,633.9 1483.1,634.3 1484.6,634.8 1486.1,635.3 1487.6,635.8 1489.1,636.4 1490.6,637.1 1492.1,637.8 1493.6,638.5 1495.1,639.4 1496.6,640.2 1498.1,641.2 1499.6,642.2 1501.1,643.3 1502.6,644.4 1504.1,645.7 1505.6,647.0 1507.1,648.3 1508.6,649.7 1510.1,651.1 1511.6,652.6 1513.1,654.1 1514.6,655.5 1516.1,657.0 1517.6,658.5 1519.1,660.0 1520.7,661.4 1522.2,662.8 1523.7,664.2 1525.2,665.5 1526.7,666.8 1528.2,667.9 1529.7,669.1 1531.2,670.1 1532.7,671.1 1534.2,672.1 1535.7,672.9 1537.2,673.8 1538.7,674.5 1540.2,675.2 1541.7,675.8 1543.2,676.3 1544.7,676.8 1546.2,677.2 1547.7,677.6 1549.2,677.9 1550.7,678.1 1552.2,678.2 1553.7,678.3 1555.2,678.4 1556.7,678.4 1558.2,678.5 1559.7,678.5 1561.2,678.5 1562.7,678.7 1564.2,678.8 1565.7,679.0 1567.2,679.3 1568.7,679.7 1570.2,680.1 1571.7,680.6 1573.2,681.1 1574.7,681.6 1576.2,682.2 1577.7,682.8 1579.2,683.4 1580.7,684.1 1582.2,684.7 1583.7,685.4 1585.2,686.0 1586.7,686.7 1588.2,687.3 1589.7,688.0 1591.2,688.6 1592.7,689.1 1594.2,689.7 1595.7,690.2 1597.2,690.7 1598.7,691.2 1600.2,691.6 1601.7,692.0 1603.2,692.4 1604.7,692.7 1606.2,693.0 1607.7,693.2 1609.2,693.4 1610.7,693.5 1612.2,693.6 1613.7,693.6 1615.2,693.6 1616.7,693.5 1618.2,693.4 1619.7,693.3 1621.2,693.1 1622.7,692.9 1624.2,692.6 1625.7,692.4 1627.2,692.1 1628.7,691.9 1630.2,691.6 1631.7,691.3 1633.2,691.1 1634.7,690.9 1636.2,690.7 1637.7,690.5 1639.2,690.4 1640.7,690.3 1642.2,690.3 1643.7,690.3 1645.2,690.3 1646.7,690.4 1648.2,690.6 1649.7,690.7 1651.2,690.9 1652.7,691.1 1654.2,691.4 1655.7,691.7 1657.2,692.1 1658.7,692.4 1660.2,692.8 1661.8,693.3 1663.3,693.7 1664.8,694.2 1666.3,694.8 1667.8,695.3 1669.3,695.9 1670.8,696.5 1672.3,697.2 1673.8,697.8 1675.3,698.5 1676.8,699.2 1678.3,700.0 1679.8,700.7 1681.3,701.5 1682.8,702.3 1684.3,703.1 1685.8,704.0 1687.3,704.8 1688.8,705.7 1690.3,706.6 1691.8,707.5 1693.3,708.5 1694.8,709.4 1696.3,710.4 1697.8,711.3 1699.3,712.3 1700.8,713.2 1702.3,714.2 1703.8,715.1 1705.3,716.1 1706.8,717.0 1708.3,717.9 1709.8,718.8 1711.3,719.7 1712.8,720.6 1714.3,721.4 1715.8,722.3 1717.3,723.1 1718.8,723.8 1720.3,724.6 1721.8,725.3 1723.3,726.0 1724.8,726.6 1726.3,727.2 1727.8,727.7 1729.3,728.2 1730.8,728.7 1734.8,729.7"/>
<path class="c d" stroke="#ff0000" stroke-dashoffset="-4" d="M38.1,863.1 42.1,865.2 43.6,865.9 45.1,866.6 46.6,867.3 48.1,868.0 49.6,868.6 51.1,869.2 52.6,869.8 54.1,870.4 55.6,870.9 57.1,871.5 58.6,872.0 60.1,872.4 61.6,872.9 63.1,873.4 64.6,873.8 66.1,874.2 67.6,874.7 69.1,875.1 70.6,875.4 72.1,875.8 73.6,876.2 75.1,876.6 76.6,876.9 78.1,877.3 79.6,877.6 81.1,878.0 82.6,878.3 84.1,878.6 85.6,879.0 87.1,879.3 88.6,879.6 90.1,880.0 91.6,880.3 93.1,880.6 94.6,880.8 96.1,881.1 97.6,881.3 99.1,881.5 100.6,881.6 102.1,881.7 103.6,881.8 105.1,881.8 106.6,881.7 108.1,881.6 109.6,881.4 111.1,881.2 112.7,880.9 114.2,880.5 115.7,880.1 117.2,879.6 118.7,879.1 120.2,878.5 121.7,877.9 123.2,877.3 124.7,876.6 126.2,875.9 127.7,875.2 129.2,874.5 130.7,873.7 132.2,873.0 133.7,872.2 135.2,871.4 136.7,870.7 138.2,869.9 139.7,869.1 141.2,868.3 142.7,867.5 144.2,866.7 145.7,865.9 147.2,865.1 148.7,864.3 150.2,863.4 151.7,862.5 153.2,861.6 154.7,860.7 156.2,859.8 157.7,858.8 159.2,857.9 160.7,856.9 162.2,855.9 163.7,854.9 165.2,854.0 166.7,853.1 168.2,852.3 169.7,851.6 171.2,850.9 172.7,850.4 174.2,849.9 175.7,849.6 177.2,849.5 178.7,849.5 180.2,849.6 181.7,849.9 183.2,850.3 184.7,850.9 186.2,851.5 187.7,852.1 189.2,852.9 190.7,853.6 192.2,854.4 193.7,855.1 195.2,855.8 196.7,856.5 198.2,857.1 199.7,857.7 201.2,858.1 202.7,858.5 204.2,858.9 205.7,859.2 207.2,859.5 208.7,859.7 210.2,860.0 211.7,860.2 213.2,860.5 214.7,860.7 216.2,860.8 217.7,860.8 219.2,860.7 220.7,860.4 222.2,859.8 223.7,859.1 225.2,858.1 226.7,857.1 228.2,856.1 229.7,855.0 231.2,854.0 232.7,853.0 234.2,852.1 235.7,851.3 237.2,850.5 238.7,849.8 240.2,849.2 241.7,848.7 243.2,848.2 244.7,847.8 246.2,847.5 247.7,847.4 249.2,847.3 250.7,847.3 252.2,847.4 253.8,847.6 255.3,847.9 256.8,848.4 258.3,849.0 259.8,849.7 261.3,850.5 262.8,851.4 264.3,852.5 265.8,853.7 267.3,854.9 268.8,856.2 270.3,857.6 271.8,858.9 273.3,860.3 274.8,861.7 276.3,863.0 277.8,864.2 279.3,865.4 280.8,866.5 282.3,867.5 283.8,868.5 285.3,869.3 286.8,870.1 288.3,870.9 289.8,871.6 291.3,872.4 292.8,873.1 294.3,873.8 295.8,874.6 297.3,875.4 298.8,876.2 300.3,877.2 301.8,878.1 303.3,879.1 304.8,880.1 306.3,881.2 307.8,882.2 309.3,883.3 310.8,884.4 312.3,885.5 313.8,886.6 315.3,887.6 316.8,888.7 318.3,889.7 319.8,890.7 321.3,891.7 322.8,892.7 324.3,893.6 325.8,894.5 327.3,895.3 328.8,896.1 330.3,896.8 331.8,897.5 333.3,898.1 334.8,898.6 336.3,899.1 337.8,899.6 339.3,900.0 340.8,900.5 342.3,901.0 343.8,901.5 345.3,902.1 346.8,902.8 348.3,903.5 349.8,904.3 351.3,905.1 352.8,906.0 354.3,906.9 355.8,907.8 357.3,908.7 358.8,909.5 360.3,910.3 361.8,911.1 363.3,911.8 364.8,912.5 366.3,913.0 367.8,913.5 369.3,913.8 370.8,914.1 372.3,914.2 373.8,914.2 375.3,914.1 376.8,913.9 378.3,913.6 379.8,913.1 381.3,912.5 382.8,911.8 384.3,910.9 385.8,910.0 387.3,909.1 388.8,908.0 390.3,907.0 391.8,905.9 393.3,904.8 394.9,903.8 396.4,902.8 397.9,901.8 399.4,901.0 400.9,900.2 402.4,899.5 403.9,898.9 405.4,898.5 406.9,898.3 408.4,898.2 409.9,898.2 411.4,898.4 412.9,898.6 414.4,899.0 415.9,899.4 417.4,899.9 418.9,900.4 420.4,900.9 421.9,901.5 423.4,902.0 424.9,902.5 426.4,902.8 427.9,903.1 429.4,903.2 430.9,903.2 432.4,903.0 433.9,902.6 435.4,902.0 436.9,901.2 438.4,900.2 439.9,899.1 441.4,897.7 442.9,896.0 444.4,894.2 445.9,892.1 447.4,889.7 448.9,887.1 450.4,884.2 451.9,881.0 453.4,877.5 454.9,873.7 456.4,869.5 457.9,865.0 459.4,860.2 460.9,855.0 462.4,849.3 463.9,843.2 465.4,836.7 466.9,829.7 468.4,822.2 469.9,814.2 471.4,805.7 472.9,796.7 474.4,787.2 475.9,777.5 477.4,767.4 478.9,757.2 480.4,746.8 481.9,736.5 483.4,726.2 484.9,716.0 486.4,706.0 487.9,696.3 489.4,687.0 490.9,678.1 492.4,669.6 493.9,661.7 495.4,654.4 496.9,647.6 498.4,641.5 499.9,636.0 501.4,631.1 502.9,626.9 504.4,623.3 505.9,620.2 507.4,617.7 508.9,615.8 510.4,614.4 511.9,613.6 513.4,613.2 514.9,613.4 516.4,614.0 517.9,615.1 519.4,616.6 520.9,618.6 522.4,621.0 523.9,623.8 525.4,627.0 526.9,630.4 528.4,634.0 529.9,637.7 531.4,641.4 532.9,645.1 534.4,648.6 536.0,652.0 537.5,655.3 539.0,658.4 540.5,661.5 542.0,664.5 543.5,667.3 545.0,670.1 546.5,672.8 548.0,675.5 549.5,678.1 551.0,680.6 552.5,683.1 554.0,685.5 555.5,687.9 557.0,690.3 558.5,692.6 560.0,694.8 561.5,697.0 563.0,699.1 564.5,701.2 566.0,703.3 567.5,705.3 569.0,707.3 570.5,709.2 572.0,711.1 573.5,713.0 575.0,714.8 576.5,716.5 578.0,718.3 579.5,720.0 581.0,721.6 582.5,723.2 584.0,724.7 585.5,726.1 587.0,727.3 588.5,728.5 590.0,729.4 591.5,730.2 593.0,730.9 594.5,731.3 596.0,731.5 597.5,731.5 599.0,731.2 600.5,730.6 602.0,729.8 603.5,728.7 605.0,727.3 606.5,725.6 608.0,723.6 609.5,721.2 611.0,718.5 612.5,715.5 614.0,712.2 615.5,708.7 617.0,705.2 618.5,702.5 620.0,700.5 621.5,699.0 623.0,697.5 624.5,695.8 626.0,693.5 627.5,690.2 629.0,686.0 630.5,681.7 632.0,677.5 633.5,673.2 635.0,669.0 636.5,665.0 638.0,661.0 639.5,657.2 641.0,653.5 642.5,650.1 644.0,646.9 645.5,644.0 647.0,641.3 648.5,638.8 650.0,636.6 651.5,634.5 653.0,632.7 654.5,631.1 656.0,629.7 657.5,628.5 659.0,627.5 660.5,626.7 662.0,626.1 663.5,625.6 665.0,625.4 666.5,625.2 668.0,625.2 669.5,625.4 671.0,625.7 672.5,626.2 674.0,626.9 675.6,627.6 677.1,628.4 678.6,629.2 680.1,629.9 681.6,630.5 683.1,631.2 684.6,631.7 686.1,632.2 687.6,632.7 689.1,633.1 690.6,633.3 692.1,633.5 693.6,633.6 695.1,633.5 696.6,633.2 698.1,632.8 699.6,632.3 701.1,631.6 702.6,630.7 704.1,629.6 705.6,628.3 707.1,626.8 708.6,625.2 710.1,623.3 711.6,621.2 713.1,618.8 714.6,616.3 716.1,613.5 717.6,610.4 719.1,607.1 720.6,603.6 722.1,600.2 723.6,596.8 725.1,593.6 726.6,590.5 728.1,587.3 729.6,584.0 731.1,580.5 732.6,576.7 734.1,572.4 735.6,567.8 737.1,563.1 738.6,558.3 740.1,553.5 741.6,548.7 743.1,544.0 744.6,539.3 746.1,534.6 747.6,530.1 749.1,525.6 750.6,521.3 752.1,517.0 753.6,512.9 755.1,508.8 756.6,504.8 758.1,500.9 759.6,497.0 761.1,493.3 762.6,489.5 764.1,485.9 765.6,482.2 767.1,478.7 768.6,475.1 770.1,471.6 771.6,467.8 773.1,463.6 774.6,459.8 776.1,456.2 777.6,452.8 779.1,449.5 780.6,446.2 782.1,442.8 783.6,439.7 785.1,436.8 786.6,434.2 788.1,431.7 789.6,429.3 791.1,427.1 792.6,425.0 794.1,422.6 795.6,420.0 797.1,417.3 798.6,414.5 800.1,411.8 801.6,409.3 803.1,406.9 804.6,404.4 806.1,401.7 807.6,398.8 809.1,395.7 810.6,392.3 812.1,388.7 813.6,384.8 815.1,380.7 816.7,376.2 818.2,371.5 819.7,366.4 821.2,361.0 822.7,355.4 824.2,349.6 825.7,343.6 827.2,337.5 828.7,331.3 830.2,325.0 831.7,318.8 833.2,312.5 834.7,306.2 836.2,299.8 837.7,293.3 839.2,286.7 840.7,280.0 842.2,273.2 843.7,266.2 845.2,259.1 846.7,251.8 848.2,244.5 849.7,237.2 851.2,229.8 852.7,222.4 854.2,215.0 855.7,207.7 857.2,200.4 858.7,193.7 860.2,187.8 861.7,182.4 863.2,177.5 864.7,172.9 866.2,168.4 867.7,163.8 869.2,158.9 870.7,153.7 872.2,148.2 873.7,142.7 875.2,137.6 876.7,132.8 878.2,128.3 879.7,124.1 881.2,120.1 882.7,116.5 884.2,113.1 885.7,109.9 887.2,107.0 888.7,104.4 890.2,101.9 891.7,99.7 893.2,97.8 894.7,96.0 896.2,94.4 897.7,93.1 899.2,91.9 900.7,90.9 902.2,90.0 903.7,89.3 905.2,88.8 906.7,88.4 908.2,88.1 909.7,87.9 911.2,87.8 912.7,87.8 914.2,87.9 915.7,88.0 917.2,88.1 918.7,88.3 920.2,88.6 921.7,89.0 923.2,89.4 924.7,90.0 926.2,90.6 927.7,91.3 929.2,92.2 930.7,93.2 932.2,94.3 933.7,95.6 935.2,96.9 936.7,98.3 938.2,99.8 939.7,101.5 941.2,103.1 942.7,104.9 944.2,106.8 945.7,108.7 947.2,110.6 948.7,112.6 950.2,114.7 951.7,116.8 953.2,119.0 954.7,121.1 956.2,123.3 957.8,125.5 959.3,127.8 960.8,130.0 962.3,132.3 963.8,134.5 965.3,136.7 966.8,138.9 968.3,141.1 969.8,143.3 971.3,145.5 972.8,147.6 974.3,149.6 975.8,151.6 977.3,153.6 978.8,155.6 980.3,157.6 981.8,159.6 983.3,161.7 984.8,163.7 986.3,165.9 987.8,168.0 989.3,170.3 990.8,172.6 992.3,175.0 993.8,177.5 995.3,180.1 996.8,182.7 998.3,185.3 999.8,188.0 1001.3,190.6 1002.8,193.3 1004.3,195.9 1005.8,198.5 1007.3,201.0 1008.8,203.5 1010.3,205.9 1011.8,208.5 1013.3,211.3 1014.8,214.2 1016.3,217.1 1017.8,220.2 1019.3,223.2 1020.8,226.1 1022.3,228.9 1023.8,231.6 1025.3,234.0 1026.8,236.4 1028.3,238.8 1029.8,241.3 1031.3,243.8 1032.8,246.3 1034.3,248.9 1035.8,251.6 1037.3,254.4 1038.8,257.3 1040.3,260.2 1041.8,263.4 1043.3,266.6 1044.8,270.0 1046.3,273.6 1047.8,277.3 1049.3,281.1 1050.8,285.1 1052.3,289.1 1053.8,293.3 1055.3,297.6 1056.8,302.0 1058.3,306.5 1059.8,311.1 1061.3,315.7 1062.8,320.5 1064.3,325.2 1065.8,330.1 1067.3,334.9 1068.8,339.7 1070.3,344.5 1071.8,349.2 1073.3,353.9 1074.8,358.5 1076.3,362.9 1077.8,367.3 1079.3,371.5 1080.8,375.5 1082.3,379.3 1083.8,382.8 1085.3,386.2 1086.8,389.3 1088.3,392.2 1089.8,394.8 1091.3,397.2 1092.8,399.5 1094.3,401.5 1095.8,403.4 1097.3,405.1 1098.9,406.6 1100.4,408.1 1101.9,409.4 1103.4,410.6 1104.9,411.7 1106.4,412.8 1107.9,413.7 1109.4,414.7 1110.9,415.5 1112.4,416.4 1113.9,417.2 1115.4,418.0 1116.9,418.8 1118.4,419.6 1119.9,420.4 1121.4,421.2 1122.9,422.1 1124.4,423.0 1125.9,423.9 1127.4,425.0 1128.9,426.1 1130.4,427.2 1131.9,428.5 1133.4,429.9 1134.9,431.4 1136.4,433.0 1137.9,434.7 1139.4,436.7 1140.9,438.8 1142.4,441.3 1143.9,444.0 1145.4,447.0 1146.9,450.4 1148.4,454.1 1149.9,458.1 1151.4,462.4 1152.9,466.9 1154.4,471.6 1155.9,476.6 1157.4,481.7 1158.9,486.9 1160.4,492.3 1161.9,497.8 1163.4,503.3 1164.9,508.9 1166.4,514.6 1167.9,520.2 1169.4,525.9 1170.9,531.5 1172.4,537.0 1173.9,542.4 1175.4,547.8 1176.9,553.0 1178.4,558.1 1179.9,562.9 1181.4,567.6 1182.9,572.1 1184.4,576.4 1185.9,580.4 1187.4,584.1 1188.9,587.6 1190.4,590.8 1191.9,593.6 1193.4,596.2 1194.9,598.4 1196.4,600.3 1197.9,601.9 1199.4,603.3 1200.9,604.4 1202.4,605.4 1203.9,606.1 1205.4,606.7 1206.9,607.1 1208.4,607.5 1209.9,607.7 1211.4,607.9 1212.9,608.0 1214.4,608.1 1215.9,608.1 1217.4,608.2 1218.9,608.3 1220.4,608.4 1221.9,608.5 1223.4,608.7 1224.9,608.8 1226.4,609.0 1227.9,609.2 1229.4,609.4 1230.9,609.7 1232.4,609.9 1233.9,610.2 1235.4,610.5 1236.9,610.9 1238.5,611.3 1240.0,611.7 1241.5,612.2 1243.0,612.7 1244.5,613.3 1246.0,613.9 1247.5,614.5 1249.0,615.2 1250.5,616.0 1252.0,616.8 1253.5,617.6 1255.0,618.5 1256.5,619.5 1258.0,620.5 1259.5,621.5 1261.0,622.6 1262.5,623.8 1264.0,625.0 1265.5,626.3 1267.0,627.7 1268.5,629.1 1270.0,630.5 1271.5,632.1 1273.0,633.7 1274.5,635.3 1276.0,637.0 1277.5,638.8 1279.0,640.6 1280.5,642.4 1282.0,644.1 1283.5,645.8 1285.0,647.4 1286.5,648.9 1288.0,650.3 1289.5,651.5 1291.0,652.6 1292.5,653.5 1294.0,654.4 1295.5,655.2 1297.0,655.9 1298.5,656.5 1300.0,657.2 1301.5,657.8 1303.0,658.4 1304.5,659.0 1306.0,659.6 1307.5,660.3 1309.0,661.1 1310.5,661.9 1312.0,662.8 1313.5,663.9 1315.0,665.0 1316.5,666.3 1318.0,667.6 1319.5,669.0 1321.0,670.4 1322.5,671.8 1324.0,673.3 1325.5,674.7 1327.0,676.2 1328.5,677.6 1330.0,678.9 1331.5,680.2 1333.0,681.4 1334.5,682.5 1336.0,683.5 1337.5,684.3 1339.0,685.1 1340.5,685.8 1342.0,686.4 1343.5,686.9 1345.0,687.3 1346.5,687.7 1348.0,688.1 1349.5,688.4 1351.0,688.7 1352.5,689.0 1354.0,689.3 1355.5,689.5 1357.0,689.7 1358.5,689.9 1360.0,690.0 1361.5,690.1 1363.0,690.2 1364.5,690.2 1366.0,690.2 1367.5,690.2 1369.0,690.1 1370.5,690.0 1372.0,689.8 1373.5,689.5 1375.0,689.2 1376.5,688.9 1378.0,688.5 1379.6,688.0 1381.1,687.5 1382.6,687.0 1384.1,686.4 1385.6,685.7 1387.1,685.0 1388.6,684.3 1390.1,683.6 1391.6,682.9 1393.1,682.1 1394.6,681.3 1396.1,680.6 1397.6,679.8 1399.1,679.0 1400.6,678.3 1402.1,677.6 1403.6,676.8 1405.1,676.2 1406.6,675.5 1408.1,674.9 1409.6,674.3 1411.1,673.7 1412.6,673.2 1414.1,672.7 1415.6,672.2 1417.1,671.7 1418.6,671.3 1420.1,670.8 1421.6,670.3 1423.1,669.8 1424.6,669.3 1426.1,668.8 1427.6,668.2 1429.1,667.6 1430.6,667.0 1432.1,666.3 1433.6,665.5 1435.1,664.6 1436.6,663.7 1438.1,662.7 1439.6,661.6 1441.1,660.4 1442.6,659.2 1444.1,658.0 1445.6,656.8 1447.1,655.6 1448.6,654.3 1450.1,653.1 1451.6,651.9 1453.1,650.6 1454.6,649.4 1456.1,648.3 1457.6,647.1 1459.1,645.9 1460.6,644.8 1462.1,643.7 1463.6,642.6 1465.1,641.5 1466.6,640.5 1468.1,639.5 1469.6,638.5 1471.1,637.5 1472.6,636.6 1474.1,635.7 1475.6,634.9 1477.1,634.1 1478.6,633.3 1480.1,632.6 1481.6,632.0 1483.1,631.3 1484.6,630.8 1486.1,630.2 1487.6,629.8 1489.1,629.3 1490.6,629.0 1492.1,628.7 1493.6,628.4 1495.1,628.3 1496.6,628.1 1498.1,628.1 1499.6,628.1 1501.1,628.2 1502.6,628.3 1504.1,628.6 1505.6,628.9 1507.1,629.2 1508.6,629.7 1510.1,630.2 1511.6,630.8 1513.1,631.5 1514.6,632.2 1516.1,633.0 1517.6,633.9 1519.1,634.8 1520.7,635.7 1522.2,636.8 1523.7,637.8 1525.2,638.9 1526.7,640.1 1528.2,641.3 1529.7,642.5 1531.2,643.8 1532.7,645.1 1534.2,646.5 1535.7,647.8 1537.2,649.2 1538.7,650.7 1540.2,652.1 1541.7,653.5 1543.2,655.0 1544.7,656.5 1546.2,657.9 1547.7,659.3 1549.2,660.6 1550.7,661.8 1552.2,662.8 1553.7,663.8 1555.2,664.6 1556.7,665.2 1558.2,665.7 1559.7,666.1 1561.2,666.5 1562.7,666.7 1564.2,667.0 1565.7,667.2 1567.2,667.5 1568.7,667.8 1570.2,668.1 1571.7,668.4 1573.2,668.7 1574.7,669.1 1576.2,669.4 1577.7,669.8 1579.2,670.2 1580.7,670.6 1582.2,671.1 1583.7,671.5 1585.2,671.9 1586.7,672.3 1588.2,672.8 1589.7,673.2 1591.2,673.6 1592.7,674.0 1594.2,674.4 1595.7,674.9 1597.2,675.3 1598.7,675.9 1600.2,676.5 1601.7,677.2 1603.2,678.0 1604.7,678.9 1606.2,680.0 1607.7,681.1 1609.2,682.4 1610.7,683.7 1612.2,685.1 1613.7,686.5 1615.2,687.8 1616.7,689.2 1618.2,690.6 1619.7,691.8 1621.2,693.1 1622.7,694.2 1624.2,695.2 1625.7,696.0 1627.2,696.8 1628.7,697.4 1630.2,697.9 1631.7,698.3 1633.2,698.6 1634.7,698.9 1636.2,699.0 1637.7,699.1 1639.2,699.1 1640.7,699.0 1642.2,698.9 1643.7,698.7 1645.2,698.5 1646.7,698.3 1648.2,698.1 1649.7,697.8 1651.2,697.5 1652.7,697.2 1654.2,696.9 1655.7,696.7 1657.2,696.4 1658.7,696.2 1660.2,696.0 1661.8,695.8 1663.3,695.6 1664.8,695.5 1666.3,695.4 1667.8,695.3 1669.3,695.2 1670.8,695.2 1672.3,695.2 1673.8,695.2 1675.3,695.3 1676.8,695.4 1678.3,695.5 1679.8,695.7 1681.3,695.9 1682.8,696.1 1684.3,696.4 1685.8,696.6 1687.3,697.0 1688.8,697.3 1690.3,697.7 1691.8,698.2 1693.3,698.6 1694.8,699.1 1696.3,699.6 1697.8,700.2 1699.3,700.7 1700.8,701.4 1702.3,702.0 1703.8,702.7 1705.3,703.4 1706.8,704.1 1708.3,704.8 1709.8,705.6 1711.3,706.4 1712.8,707.3 1714.3,708.1 1715.8,709.0 1717.3,709.9 1718.8,710.9 1720.3,711.8 1721.8,712.8 1723.3,713.8 1724.8,714.9 1726.3,715.9 1727.8,717.0 1729.3,718.1 1730.8,719.2 1734.8,722.3"/>
<path class="c" stroke="#00ff00" d="M38.1,847.8 42.1,848.0 43.6,848.1 45.1,848.2 46.6,848.4 48.1,848.6 49.6,848.8 51.1,849.0 52.6,849.3 54.1,849.6 55.6,849.9 57.1,850.2 58.6,850.5 60.1,850.9 61.6,851.2 63.1,851.6 64.6,852.0 66.1,852.5 67.6,852.9 69.1,853.4 70.6,853.8 72.1,854.3 73.6,854.8 75.1,855.3 76.6,855.8 78.1,856.3 79.6,856.8 81.1,857.3 82.6,857.9 84.1,858.4 85.6,859.0 87.1,859.5 88.6,860.1 90.1,860.6 91.6,861.2 93.1,861.6 94.6,862.1 96.1,862.5 97.6,862.9 99.1,863.2 100.6,863.4 102.1,863.5 103.6,863.5 105.1,863.5 106.6,863.3 108.1,863.1 109.6,862.8 111.1,862.4 112.7,862.0 114.2,861.5 115.7,861.0 117.2,860.5 118.7,859.9 120.2,859.3 121.7,858.8 123.2,858.2 124.7,857.7 126.2,857.2 127.7,856.7 129.2,856.3 130.7,855.9 132.2,855.6 133.7,855.3 135.2,855.1 136.7,854.9 138.2,854.7 139.7,854.6 141.2,854.5 142.7,854.5 144.2,854.4 145.7,854.4 147.2,854.4 148.7,854.4 150.2,854.5 151.7,854.5 153.2,854.6 154.7,854.7 156.2,854.7 157.7,854.8 159.2,854.9 160.7,854.9 162.2,855.0 163.7,855.0 165.2,855.0 166.7,855.0 168.2,855.1 169.7,855.1 171.2,855.1 172.7,855.1 174.2,855.1 175.7,855.2 177.2,855.3 178.7,855.4 180.2,855.5 181.7,855.7 183.2,856.0 184.7,856.3 186.2,856.6 187.7,857.0 189.2,857.5 190.7,858.0 192.2,858.6 193.7,859.2 195.2,859.8 196.7,860.5 198.2,861.2 199.7,861.9 201.2,862.6 202.7,863.3 204.2,864.0 205.7,864.8 207.2,865.5 208.7,866.2 210.2,867.0 211.7,867.7 213.2,868.4 214.7,869.1 216.2,869.8 217.7,870.4 219.2,871.1 220.7,871.7 222.2,872.4 223.7,873.0 225.2,873.6 226.7,874.2 228.2,874.8 229.7,875.3 231.2,875.9 232.7,876.4 234.2,876.9 235.7,877.4 237.2,877.9 238.7,878.3 240.2,878.7 241.7,879.1 243.2,879.5 244.7,879.8 246.2,880.1 247.7,880.4 249.2,880.7 250.7,880.9 252.2,881.1 253.8,881.3 255.3,881.4 256.8,881.6 258.3,881.7 259.8,881.8 261.3,881.8 262.8,881.9 264.3,881.9 265.8,881.9 267.3,881.9 268.8,881.9 270.3,881.8 271.8,881.8 273.3,881.7 274.8,881.6 276.3,881.6 277.8,881.5 279.3,881.3 280.8,881.2 282.3,881.1 283.8,881.0 285.3,880.8 286.8,880.7 288.3,880.6 289.8,880.4 291.3,880.3 292.8,880.1 294.3,880.0 295.8,879.8 297.3,879.7 298.8,879.5 300.3,879.4 301.8,879.3 303.3,879.2 304.8,879.1 306.3,878.9 307.8,878.9 309.3,878.8 310.8,878.7 312.3,878.6 313.8,878.5 315.3,878.5 316.8,878.4 318.3,878.4 319.8,878.3 321.3,878.3 322.8,878.3 324.3,878.3 325.8,878.3 327.3,878.3 328.8,878.3 330.3,878.3 331.8,878.3 333.3,878.4 334.8,878.4 336.3,878.5 337.8,878.5 339.3,878.6 340.8,878.7 342.3,878.8 343.8,878.9 345.3,879.0 346.8,879.1 348.3,879.2 349.8,879.3 351.3,879.5 352.8,879.6 354.3,879.7 355.8,879.9 357.3,880.0 358.8,880.2 360.3,880.3 361.8,880.4 363.3,880.5 364.8,880.7 366.3,880.8 367.8,880.9 369.3,881.0 370.8,881.1 372.3,881.1 373.8,881.2 375.3,881.2 376.8,881.3 378.3,881.3 379.8,881.3 381.3,881.2 382.8,881.2 384.3,881.1 385.8,881.0 387.3,880.9 388.8,880.7 390.3,880.6 391.8,880.4 393.3,880.2 394.9,880.0 396.4,879.8 397.9,879.6 399.4,879.4 400.9,879.3 402.4,879.1 403.9,879.0 405.4,878.9 406.9,878.9 408.4,878.8 409.9,878.9 411.4,878.9 412.9,879.0 414.4,879.2 415.9,879.3 417.4,879.5 418.9,879.6 420.4,879.8 421.9,880.0 423.4,880.1 424.9,880.3 426.4,880.4 427.9,880.5 429.4,880.6 430.9,880.6 432.4,880.5 433.9,880.4 435.4,880.3 436.9,880.0 438.4,879.7 439.9,879.2 441.4,878.6 442.9,877.9 444.4,877.0 445.9,876.0 447.4,874.8 448.9,873.6 450.4,872.4 451.9,871.1 453.4,869.9 454.9,868.6 456.4,867.4 457.9,866.2 459.4,865.0 460.9,863.8 462.4,862.6 463.9,861.4 465.4,860.1 466.9,858.7 468.4,857.1 469.9,855.4 471.4,853.4 472.9,851.1 474.4,848.4 475.9,845.4 477.4,842.1 478.9,838.7 480.4,835.1 481.9,831.3 483.4,827.5 484.9,823.6 486.4,819.7 487.9,815.7 489.4,811.7 490.9,807.7 492.4,803.8 493.9,799.8 495.4,795.9 496.9,791.9 498.4,787.9 499.9,783.7 501.4,779.6 502.9,775.6 504.4,771.6 505.9,767.8 507.4,764.2 508.9,760.9 510.4,757.8 511.9,755.1 513.4,752.7 514.9,750.6 516.4,748.9 517.9,747.6 519.4,746.6 520.9,745.9 522.4,745.5 523.9,745.3 525.4,745.3 526.9,745.5 528.4,745.9 529.9,746.4 531.4,747.1 532.9,748.0 534.4,748.9 536.0,750.1 537.5,751.3 539.0,752.6 540.5,754.1 542.0,755.6 543.5,757.2 545.0,758.9 546.5,760.6 548.0,762.4 549.5,764.3 551.0,766.1 552.5,768.0 554.0,769.9 555.5,771.8 557.0,773.6 558.5,775.5 560.0,777.3 561.5,779.0 563.0,780.7 564.5,782.4 566.0,783.9 567.5,785.4 569.0,786.8 570.5,788.1 572.0,789.3 573.5,790.5 575.0,791.5 576.5,792.5 578.0,793.4 579.5,794.2 581.0,795.0 582.5,795.6 584.0,796.2 585.5,796.7 587.0,797.1 588.5,797.4 590.0,797.7 591.5,797.9 593.0,798.0 594.5,798.0 596.0,797.9 597.5,797.8 599.0,797.6 600.5,797.3 602.0,796.9 603.5,796.4 605.0,795.8 606.5,795.2 608.0,794.4 609.5,793.6 611.0,792.6 612.5,791.5 614.0,790.4 615.5,789.1 617.0,787.7 618.5,786.2 620.0,784.5 621.5,782.8 623.0,780.9 624.5,778.9 626.0,776.8 627.5,774.8 629.0,772.9 630.5,771.1 632.0,769.3 633.5,767.4 635.0,765.5 636.5,763.3 638.0,760.8 639.5,757.9 641.0,754.7 642.5,751.3 644.0,747.7 645.5,744.0 647.0,740.1 648.5,736.2 650.0,732.2 651.5,728.2 653.0,724.2 654.5,720.2 656.0,716.3 657.5,712.4 659.0,708.7 660.5,705.1 662.0,701.7 663.5,698.5 665.0,695.5 666.5,692.6 668.0,689.7 669.5,686.9 671.0,684.2 672.5,681.7 674.0,679.4 675.6,677.4 677.1,675.6 678.6,674.1 680.1,672.7 681.6,671.5 683.1,670.3 684.6,669.2 686.1,668.1 687.6,667.1 689.1,666.1 690.6,665.2 692.1,664.4 693.6,663.6 695.1,663.0 696.6,662.3 698.1,661.8 699.6,661.4 701.1,661.0 702.6,660.7 704.1,660.5 705.6,660.4 707.1,660.4 708.6,660.5 710.1,660.7 711.6,661.0 713.1,661.5 714.6,662.0 716.1,662.6 717.6,663.4 719.1,664.2 720.6,665.2 722.1,666.1 723.6,667.1 725.1,668.0 726.6,669.0 728.1,669.9 729.6,670.7 731.1,671.5 732.6,672.1 734.1,672.6 735.6,673.0 737.1,673.3 738.6,673.4 740.1,673.3 741.6,673.1 743.1,672.7 744.6,672.0 746.1,671.2 747.6,670.1 749.1,668.7 750.6,667.1 752.1,665.3 753.6,663.3 755.1,661.1 756.6,658.8 758.1,656.4 759.6,653.9 761.1,651.3 762.6,648.6 764.1,645.9 765.6,643.2 767.1,640.6 768.6,637.9 770.1,635.4 771.6,632.9 773.1,630.6 774.6,628.3 776.1,626.3 777.6,624.4 779.1,622.6 780.6,621.0 782.1,619.6 783.6,618.3 785.1,617.2 786.6,616.3 788.1,615.6 789.6,615.0 791.1,614.5 792.6,614.2 794.1,614.0 795.6,613.9 797.1,613.9 798.6,614.0 800.1,614.1 801.6,614.3 803.1,614.6 804.6,614.9 806.1,615.2 807.6,615.6 809.1,616.0 810.6,616.3 812.1,616.6 813.6,616.9 815.1,617.2 816.7,617.4 818.2,617.6 819.7,617.7 821.2,617.7 822.7,617.6 824.2,617.4 825.7,617.1 827.2,616.7 828.7,616.1 830.2,615.4 831.7,614.6 833.2,613.6 834.7,612.4 836.2,611.0 837.7,609.5 839.2,607.8 840.7,605.9 842.2,604.0 843.7,601.8 845.2,599.6 846.7,597.3 848.2,594.8 849.7,592.3 851.2,589.8 852.7,587.2 854.2,584.5 855.7,581.9 857.2,579.2 858.7,576.5 860.2,573.9 861.7,571.2 863.2,568.6 864.7,566.1 866.2,563.6 867.7,561.2 869.2,558.8 870.7,556.6 872.2,554.4 873.7,552.4 875.2,550.4 876.7,548.6 878.2,546.9 879.7,545.2 881.2,543.7 882.7,542.2 884.2,540.8 885.7,539.4 887.2,538.1 888.7,536.9 890.2,535.7 891.7,534.5 893.2,533.3 894.7,532.1 896.2,530.8 897.7,529.6 899.2,528.3 900.7,527.0 902.2,525.6 903.7,524.2 905.2,522.7 906.7,521.2 908.2,519.7 909.7,518.2 911.2,516.6 912.7,515.1 914.2,513.5 915.7,511.9 917.2,510.4 918.7,508.8 920.2,507.3 921.7,505.8 923.2,504.4 924.7,503.0 926.2,501.7 927.7,500.5 929.2,499.3 930.7,498.3 932.2,497.3 933.7,496.4 935.2,495.7 936.7,495.0 938.2,494.6 939.7,494.2 941.2,494.0 942.7,494.0 944.2,494.1 945.7,494.4 947.2,494.9 948.7,495.5 950.2,496.3 951.7,497.2 953.2,498.3 954.7,499.5 956.2,500.8 957.8,502.2 959.3,503.6 960.8,505.2 962.3,506.8 963.8,508.5 965.3,510.2 966.8,511.9 968.3,513.6 969.8,515.4 971.3,517.1 972.8,518.9 974.3,520.6 975.8,522.3 977.3,523.9 978.8,525.5 980.3,527.0 981.8,528.5 983.3,529.8 984.8,531.1 986.3,532.2 987.8,533.3 989.3,534.2 990.8,535.1 992.3,535.9 993.8,536.6 995.3,537.3 996.8,537.9 998.3,538.4 999.8,539.0 1001.3,539.4 1002.8,539.9 1004.3,540.4 1005.8,540.8 1007.3,541.3 1008.8,541.8 1010.3,542.3 1011.8,542.8 1013.3,543.3 1014.8,543.9 1016.3,544.5 1017.8,545.2 1019.3,545.9 1020.8,546.6 1022.3,547.4 1023.8,548.2 1025.3,549.1 1026.8,550.0 1028.3,551.0 1029.8,552.0 1031.3,553.1 1032.8,554.3 1034.3,555.5 1035.8,556.8 1037.3,558.1 1038.8,559.5 1040.3,561.0 1041.8,562.5 1043.3,564.1 1044.8,565.8 1046.3,567.5 1047.8,569.2 1049.3,571.0 1050.8,572.9 1052.3,574.8 1053.8,576.7 1055.3,578.7 1056.8,580.7 1058.3,582.7 1059.8,584.8 1061.3,586.9 1062.8,589.0 1064.3,591.2 1065.8,593.3 1067.3,595.5 1068.8,597.8 1070.3,600.0 1071.8,602.2 1073.3,604.5 1074.8,606.8 1076.3,609.0 1077.8,611.3 1079.3,613.6 1080.8,615.9 1082.3,618.2 1083.8,620.4 1085.3,622.7 1086.8,625.0 1088.3,627.2 1089.8,629.5 1091.3,631.7 1092.8,633.9 1094.3,636.2 1095.8,638.4 1097.3,640.6 1098.9,642.8 1100.4,645.0 1101.9,647.1 1103.4,649.2 1104.9,651.3 1106.4,653.4 1107.9,655.4 1109.4,657.4 1110.9,659.3 1112.4,661.3 1113.9,663.2 1115.4,665.1 1116.9,667.0 1118.4,668.9 1119.9,670.9 1121.4,672.8 1122.9,674.8 1124.4,676.7 1125.9,678.7 1127.4,680.8 1128.9,682.8 1130.4,684.9 1131.9,687.0 1133.4,689.1 1134.9,691.2 1136.4,693.3 1137.9,695.4 1139.4,697.5 1140.9,699.6 1142.4,701.7 1143.9,703.7 1145.4,705.8 1146.9,707.9 1148.4,710.0 1149.9,712.1 1151.4,714.1 1152.9,716.2 1154.4,718.3 1155.9,720.4 1157.4,722.5 1158.9,724.6 1160.4,726.7 1161.9,728.8 1163.4,730.9 1164.9,733.0 1166.4,735.1 1167.9,737.2 1169.4,739.3 1170.9,741.4 1172.4,743.5 1173.9,745.5 1175.4,747.5 1176.9,749.5 1178.4,751.4 1179.9,753.3 1181.4,755.2 1182.9,756.9 1184.4,758.7 1185.9,760.3 1187.4,761.9 1188.9,763.4 1190.4,764.8 1191.9,766.1 1193.4,767.3 1194.9,768.5 1196.4,769.5 1197.9,770.5 1199.4,771.5 1200.9,772.3 1202.4,773.1 1203.9,773.9 1205.4,774.5 1206.9,775.2 1208.4,775.8 1209.9,776.3 1211.4,776.8 1212.9,777.2 1214.4,777.6 1215.9,778.0 1217.4,778.3 1218.9,778.6 1220.4,778.9 1221.9,779.1 1223.4,779.3 1224.9,779.5 1226.4,779.6 1227.9,779.8 1229.4,779.9 1230.9,780.1 1232.4,780.2 1233.9,780.3 1235.4,780.5 1236.9,780.6 1238.5,780.8 1240.0,780.9 1241.5,781.1 1243.0,781.3 1244.5,781.6 1246.0,781.8 1247.5,782.1 1249.0,782.4 1250.5,782.7 1252.0,783.1 1253.5,783.4 1255.0,783.8 1256.5,784.2 1258.0,784.6 1259.5,785.1 1261.0,785.6 1262.5,786.0 1264.0,786.6 1265.5,787.1 1267.0,787.6 1268.5,788.2 1270.0,788.8 1271.5,789.4 1273.0,790.1 1274.5,790.7 1276.0,791.4 1277.5,792.1 1279.0,792.8 1280.5,793.5 1282.0,794.2 1283.5,795.0 1285.0,795.8 1286.5,796.6 1288.0,797.4 1289.5,798.3 1291.0,799.1 1292.5,800.0 1294.0,800.9 1295.5,801.8 1297.0,802.7 1298.5,803.7 1300.0,804.6 1301.5,805.6 1303.0,806.6 1304.5,807.6 1306.0,808.6 1307.5,809.5 1309.0,810.5 1310.5,811.3 1312.0,812.1 1313.5,812.7 1315.0,813.3 1316.5,813.9 1318.0,814.3 1319.5,814.7 1321.0,815.1 1322.5,815.4 1324.0,815.7 1325.5,816.0 1327.0,816.3 1328.5,816.5 1330.0,816.8 1331.5,817.0 1333.0,817.3 1334.5,817.5 1336.0,817.8 1337.5,818.0 1339.0,818.2 1340.5,818.4 1342.0,818.6 1343.5,818.7 1345.0,818.8 1346.5,818.8 1348.0,818.8 1349.5,818.7 1351.0,818.6 1352.5,818.5 1354.0,818.3 1355.5,818.1 1357.0,817.8 1358.5,817.5 1360.0,817.2 1361.5,816.8 1363.0,816.5 1364.5,816.2 1366.0,815.8 1367.5,815.5 1369.0,815.1 1370.5,814.8 1372.0,814.5 1373.5,814.2 1375.0,814.0 1376.5,813.8 1378.0,813.6 1379.6,813.5 1381.1,813.4 1382.6,813.3 1384.1,813.3 1385.6,813.2 1387.1,813.3 1388.6,813.3 1390.1,813.4 1391.6,813.5 1393.1,813.6 1394.6,813.8 1396.1,813.9 1397.6,814.1 1399.1,814.3 1400.6,814.5 1402.1,814.8 1403.6,815.0 1405.1,815.2 1406.6,815.5 1408.1,815.8 1409.6,816.0 1411.1,816.3 1412.6,816.5 1414.1,816.8 1415.6,817.1 1417.1,817.4 1418.6,817.7 1420.1,817.9 1421.6,818.2 1423.1,818.5 1424.6,818.8 1426.1,819.1 1427.6,819.4 1429.1,819.6 1430.6,819.9 1432.1,820.2 1433.6,820.5 1435.1,820.7 1436.6,821.0 1438.1,821.3 1439.6,821.5 1441.1,821.8 1442.6,822.0 1444.1,822.3 1445.6,822.5 1447.1,822.7 1448.6,822.8 1450.1,823.0 1451.6,823.1 1453.1,823.2 1454.6,823.3 1456.1,823.4 1457.6,823.4 1459.1,823.4 1460.6,823.3 1462.1,823.2 1463.6,823.1 1465.1,822.9 1466.6,822.7 1468.1,822.4 1469.6,822.0 1471.1,821.6 1472.6,821.1 1474.1,820.5 1475.6,819.8 1477.1,819.1 1478.6,818.2 1480.1,817.2 1481.6,816.2 1483.1,815.0 1484.6,813.7 1486.1,812.3 1487.6,810.9 1489.1,809.4 1490.6,807.9 1492.1,806.4 1493.6,804.8 1495.1,803.3 1496.6,801.8 1498.1,800.4 1499.6,799.0 1501.1,797.6 1502.6,796.4 1504.1,795.3 1505.6,794.2 1507.1,793.3 1508.6,792.5 1510.1,791.8 1511.6,791.2 1513.1,790.7 1514.6,790.3 1516.1,789.9 1517.6,789.6 1519.1,789.4 1520.7,789.3 1522.2,789.2 1523.7,789.1 1525.2,789.1 1526.7,789.1 1528.2,789.2 1529.7,789.3 1531.2,789.4 1532.7,789.5 1534.2,789.7 1535.7,789.8 1537.2,790.0 1538.7,790.3 1540.2,790.5 1541.7,790.8 1543.2,791.1 1544.7,791.4 1546.2,791.7 1547.7,792.1 1549.2,792.5 1550.7,792.9 1552.2,793.4 1553.7,793.9 1555.2,794.4 1556.7,794.9 1558.2,795.5 1559.7,796.1 1561.2,796.7 1562.7,797.3 1564.2,797.9 1565.7,798.6 1567.2,799.3 1568.7,800.0 1570.2,800.7 1571.7,801.4 1573.2,802.2 1574.7,802.9 1576.2,803.7 1577.7,804.4 1579.2,805.2 1580.7,806.0 1582.2,806.8 1583.7,807.6 1585.2,808.3 1586.7,809.0 1588.2,809.7 1589.7,810.4 1591.2,811.0 1592.7,811.6 1594.2,812.2 1595.7,812.6 1597.2,813.0 1598.7,813.3 1600.2,813.6 1601.7,813.7 1603.2,813.8 1604.7,813.7 1606.2,813.6 1607.7,813.4 1609.2,813.0 1610.7,812.6 1612.2,812.2 1613.7,811.6 1615.2,810.9 1616.7,810.2 1618.2,809.4 1619.7,808.5 1621.2,807.6 1622.7,806.5 1624.2,805.4 1625.7,804.3 1627.2,803.1 1628.7,801.9 1630.2,800.6 1631.7,799.3 1633.2,798.1 1634.7,796.8 1636.2,795.5 1637.7,794.3 1639.2,793.1 1640.7,791.9 1642.2,790.8 1643.7,789.7 1645.2,788.8 1646.7,787.8 1648.2,787.0 1649.7,786.2 1651.2,785.5 1652.7,784.9 1654.2,784.4 1655.7,783.9 1657.2,783.4 1658.7,783.1 1660.2,782.8 1661.8,782.6 1663.3,782.4 1664.8,782.3 1666.3,782.3 1667.8,782.3 1669.3,782.4 1670.8,782.6 1672.3,782.8 1673.8,783.1 1675.3,783.4 1676.8,783.8 1678.3,784.3 1679.8,784.8 1681.3,785.4 1682.8,786.0 1684.3,786.7 1685.8,787.5 1687.3,788.3 1688.8,789.1 1690.3,790.0 1691.8,791.0 1693.3,792.0 1694.8,793.0 1696.3,794.1 1697.8,795.2 1699.3,796.4 1700.8,797.5 1702.3,798.7 1703.8,799.9 1705.3,801.1 1706.8,802.3 1708.3,803.5 1709.8,804.6 1711.3,805.7 1712.8,806.8 1714.3,807.9 1715.8,808.9 1717.3,809.9 1718.8,810.8 1720.3,811.7 1721.8,812.4 1723.3,813.1 1724.8,813.8 1726.3,814.3 1727.8,814.8 1729.3,815.1 1730.8,815.4 1734.8,815.4"/>
<path class="c" stroke="#0000ff" d="M38.1,841.5 42.1,839.6 43.6,839.0 45.1,838.5 46.6,837.9 48.1,837.5 49.6,837.1 51.1,836.7 52.6,836.4 54.1,836.2 55.6,836.0 57.1,835.8 58.6,835.7 60.1,835.7 61.6,835.7 63.1,835.7 64.6,835.8 66.1,836.0 67.6,836.2 69.1,836.5 70.6,836.8 72.1,837.1 73.6,837.5 75.1,838.0 76.6,838.5 78.1,839.0 79.6,839.6 81.1,840.3 82.6,840.9 84.1,841.7 85.6,842.5 87.1,843.3 88.6,844.2 90.1,845.1 91.6,846.1 93.1,847.1 94.6,848.2 96.1,849.3 97.6,850.5 99.1,851.7 100.6,853.0 102.1,854.3 103.6,855.6 105.1,857.0 106.6,858.5 108.1,859.9 109.6,861.4 111.1,862.9 112.7,864.3 114.2,865.6 115.7,866.8 117.2,867.8 118.7,868.6 120.2,869.3 121.7,869.9 123.2,870.3 124.7,870.5 126.2,870.6 127.7,870.6 129.2,870.4 130.7,870.2 132.2,869.8 133.7,869.3 135.2,868.7 136.7,868.0 138.2,867.2 139.7,866.4 141.2,865.5 142.7,864.5 144.2,863.6 145.7,862.6 147.2,861.7 148.7,860.8 150.2,860.0 151.7,859.2 153.2,858.5 154.7,857.9 156.2,857.4 157.7,857.1 159.2,856.8 160.7,856.6 162.2,856.5 163.7,856.4 165.2,856.4 166.7,856.5 168.2,856.6 169.7,856.7 171.2,856.9 172.7,857.1 174.2,857.3 175.7,857.5 177.2,857.7 178.7,857.9 180.2,858.1 181.7,858.3 183.2,858.4 184.7,858.5 186.2,858.7 187.7,858.8 189.2,859.1 190.7,859.3 192.2,859.7 193.7,860.1 195.2,860.7 196.7,861.4 198.2,862.2 199.7,863.2 201.2,864.2 202.7,865.3 204.2,866.5 205.7,867.7 207.2,869.0 208.7,870.2 210.2,871.5 211.7,872.7 213.2,873.9 214.7,875.1 216.2,876.2 217.7,877.2 219.2,878.3 220.7,879.2 222.2,880.1 223.7,881.0 225.2,881.8 226.7,882.6 228.2,883.4 229.7,884.1 231.2,884.7 232.7,885.3 234.2,885.9 235.7,886.4 237.2,886.9 238.7,887.4 240.2,887.8 241.7,888.2 243.2,888.5 244.7,888.8 246.2,889.1 247.7,889.4 249.2,889.6 250.7,889.7 252.2,889.9 253.8,889.9 255.3,890.0 256.8,890.1 258.3,890.1 259.8,890.0 261.3,890.0 262.8,889.9 264.3,889.8 265.8,889.6 267.3,889.5 268.8,889.3 270.3,889.1 271.8,888.9 273.3,888.6 274.8,888.4 276.3,888.2 277.8,888.0 279.3,887.7 280.8,887.5 282.3,887.3 283.8,887.1 285.3,886.9 286.8,886.8 288.3,886.7 289.8,886.5 291.3,886.4 292.8,886.3 294.3,886.1 295.8,885.9 297.3,885.6 298.8,885.2 300.3,884.7 301.8,884.1 303.3,883.4 304.8,882.7 306.3,881.8 307.8,881.0 309.3,880.0 310.8,879.0 312.3,877.9 313.8,876.9 315.3,875.8 316.8,874.7 318.3,873.6 319.8,872.6 321.3,871.7 322.8,870.9 324.3,870.2 325.8,869.7 327.3,869.2 328.8,868.9 330.3,868.7 331.8,868.6 333.3,868.5 334.8,868.4 336.3,868.4 337.8,868.4 339.3,868.4 340.8,868.4 342.3,868.5 343.8,868.5 345.3,868.6 346.8,868.7 348.3,868.9 349.8,869.1 351.3,869.3 352.8,869.5 354.3,869.8 355.8,870.1 357.3,870.4 358.8,870.8 360.3,871.1 361.8,871.6 363.3,872.0 364.8,872.4 366.3,872.8 367.8,873.2 369.3,873.6 370.8,874.0 372.3,874.4 373.8,874.7 375.3,875.0 376.8,875.3 378.3,875.5 379.8,875.7 381.3,875.9 382.8,875.9 384.3,876.0 385.8,876.0 387.3,875.9 388.8,875.8 390.3,875.7 391.8,875.6 393.3,875.4 394.9,875.3 396.4,875.1 397.9,874.9 399.4,874.7 400.9,874.5 402.4,874.3 403.9,874.1 405.4,874.0 406.9,873.8 408.4,873.7 409.9,873.6 411.4,873.6 412.9,873.6 414.4,873.6 415.9,873.7 417.4,873.8 418.9,874.0 420.4,874.2 421.9,874.4 423.4,874.7 424.9,875.0 426.4,875.3 427.9,875.6 429.4,875.9 430.9,876.2 432.4,876.5 433.9,876.8 435.4,877.0 436.9,877.2 438.4,877.4 439.9,877.6 441.4,877.7 442.9,877.7 444.4,877.7 445.9,877.6 447.4,877.5 448.9,877.3 450.4,877.0 451.9,876.6 453.4,876.1 454.9,875.5 456.4,874.7 457.9,873.9 459.4,873.0 460.9,871.9 462.4,870.7 463.9,869.3 465.4,867.8 466.9,866.1 468.4,864.1 469.9,862.0 471.4,859.5 472.9,856.9 474.4,853.9 475.9,850.6 477.4,846.9 478.9,843.1 480.4,839.5 481.9,836.2 483.4,833.2 484.9,830.1 486.4,826.9 487.9,823.1 489.4,818.7 490.9,813.6 492.4,808.4 493.9,803.4 495.4,798.6 496.9,794.0 498.4,789.6 499.9,785.5 501.4,781.6 502.9,777.9 504.4,774.4 505.9,770.9 507.4,767.2 508.9,763.4 510.4,759.5 511.9,755.8 513.4,752.3 514.9,749.1 516.4,746.5 517.9,744.3 519.4,742.3 520.9,740.5 522.4,739.0 523.9,737.9 525.4,737.0 526.9,736.5 528.4,736.3 529.9,736.3 531.4,736.6 532.9,737.1 534.4,737.8 536.0,738.7 537.5,739.8 539.0,741.1 540.5,742.5 542.0,744.0 543.5,745.7 545.0,747.4 546.5,749.2 548.0,751.1 549.5,753.0 551.0,754.9 552.5,756.8 554.0,758.8 555.5,760.7 557.0,762.6 558.5,764.4 560.0,766.1 561.5,767.8 563.0,769.4 564.5,770.8 566.0,772.2 567.5,773.5 569.0,774.7 570.5,775.8 572.0,776.9 573.5,777.8 575.0,778.7 576.5,779.4 578.0,780.1 579.5,780.7 581.0,781.3 582.5,781.7 584.0,782.1 585.5,782.4 587.0,782.6 588.5,782.7 590.0,782.8 591.5,782.8 593.0,782.7 594.5,782.6 596.0,782.3 597.5,782.0 599.0,781.6 600.5,781.1 602.0,780.6 603.5,779.9 605.0,779.2 606.5,778.4 608.0,777.5 609.5,776.5 611.0,775.4 612.5,774.2 614.0,772.9 615.5,771.5 617.0,770.0 618.5,768.5 620.0,766.8 621.5,765.1 623.0,763.3 624.5,761.5 626.0,759.6 627.5,757.9 629.0,756.4 630.5,754.9 632.0,753.5 633.5,752.1 635.0,750.6 636.5,749.0 638.0,747.3 639.5,745.2 641.0,742.9 642.5,740.5 644.0,738.0 645.5,735.4 647.0,732.8 648.5,730.1 650.0,727.4 651.5,724.6 653.0,721.8 654.5,719.0 656.0,716.1 657.5,713.3 659.0,710.5 660.5,707.7 662.0,704.9 663.5,702.1 665.0,699.4 666.5,696.7 668.0,693.7 669.5,690.7 671.0,687.7 672.5,684.8 674.0,682.0 675.6,679.6 677.1,677.5 678.6,675.7 680.1,674.2 681.6,672.9 683.1,671.8 684.6,670.9 686.1,670.0 687.6,669.4 689.1,669.0 690.6,668.8 692.1,668.7 693.6,668.7 695.1,668.8 696.6,668.9 698.1,669.0 699.6,669.0 701.1,669.1 702.6,669.2 704.1,669.4 705.6,669.6 707.1,669.8 708.6,670.0 710.1,670.3 711.6,670.6 713.1,670.9 714.6,671.2 716.1,671.5 717.6,671.7 719.1,672.0 720.6,672.2 722.1,672.4 723.6,672.5 725.1,672.6 726.6,672.7 728.1,672.7 729.6,672.7 731.1,672.6 732.6,672.5 734.1,672.3 735.6,672.1 737.1,671.8 738.6,671.5 740.1,671.3 741.6,671.0 743.1,670.6 744.6,670.1 746.1,669.5 747.6,668.8 749.1,667.9 750.6,666.8 752.1,665.8 753.6,664.7 755.1,663.6 756.6,662.4 758.1,661.1 759.6,659.7 761.1,658.2 762.6,656.6 764.1,654.9 765.6,653.1 767.1,651.1 768.6,649.2 770.1,647.2 771.6,645.2 773.1,643.2 774.6,641.2 776.1,639.4 777.6,637.6 779.1,636.0 780.6,634.4 782.1,633.0 783.6,631.6 785.1,630.1 786.6,628.7 788.1,627.4 789.6,626.3 791.1,625.3 792.6,624.6 794.1,624.1 795.6,623.8 797.1,623.6 798.6,623.5 800.1,623.5 801.6,623.5 803.1,623.5 804.6,623.6 806.1,623.8 807.6,623.9 809.1,624.1 810.6,624.2 812.1,624.4 813.6,624.5 815.1,624.7 816.7,624.8 818.2,624.8 819.7,624.8 821.2,624.8 822.7,624.6 824.2,624.4 825.7,624.1 827.2,623.7 828.7,623.2 830.2,622.5 831.7,621.6 833.2,620.5 834.7,619.2 836.2,617.7 837.7,615.9 839.2,613.9 840.7,611.8 842.2,609.5 843.7,607.1 845.2,604.5 846.7,602.1 848.2,599.8 849.7,597.7 851.2,595.8 852.7,593.9 854.2,591.9 855.7,589.9 857.2,587.7 858.7,585.2 860.2,582.4 861.7,579.5 863.2,576.6 864.7,573.7 866.2,570.7 867.7,567.8 869.2,564.9 870.7,561.9 872.2,559.0 873.7,556.1 875.2,553.2 876.7,550.3 878.2,547.5 879.7,544.7 881.2,541.9 882.7,539.1 884.2,536.4 885.7,533.7 887.2,531.1 888.7,528.6 890.2,526.0 891.7,523.6 893.2,521.2 894.7,518.8 896.2,516.5 897.7,514.3 899.2,512.1 900.7,510.0 902.2,508.0 903.7,506.0 905.2,504.1 906.7,502.2 908.2,500.4 909.7,498.7 911.2,497.0 912.7,495.4 914.2,493.9 915.7,492.4 917.2,491.1 918.7,489.7 920.2,488.5 921.7,487.3 923.2,486.0 924.7,484.8 926.2,483.7 927.7,482.7 929.2,481.8 930.7,481.1 932.2,480.6 933.7,480.2 935.2,479.9 936.7,479.8 938.2,479.7 939.7,479.7 941.2,479.8 942.7,480.0 944.2,480.2 945.7,480.4 947.2,480.7 948.7,481.0 950.2,481.4 951.7,481.7 953.2,482.1 954.7,482.5 956.2,482.9 957.8,483.3 959.3,483.6 960.8,483.9 962.3,484.3 963.8,484.5 965.3,484.8 966.8,485.0 968.3,485.2 969.8,485.4 971.3,485.6 972.8,485.8 974.3,486.0 975.8,486.1 977.3,486.3 978.8,486.4 980.3,486.6 981.8,486.8 983.3,486.9 984.8,487.1 986.3,487.3 987.8,487.4 989.3,487.6 990.8,487.9 992.3,488.1 993.8,488.4 995.3,488.6 996.8,488.9 998.3,489.3 999.8,489.6 1001.3,490.0 1002.8,490.4 1004.3,490.9 1005.8,491.4 1007.3,491.9 1008.8,492.5 1010.3,493.1 1011.8,493.8 1013.3,494.5 1014.8,495.3 1016.3,496.1 1017.8,496.9 1019.3,497.6 1020.8,498.4 1022.3,499.1 1023.8,499.9 1025.3,500.7 1026.8,501.6 1028.3,502.6 1029.8,503.7 1031.3,504.9 1032.8,506.2 1034.3,507.6 1035.8,509.0 1037.3,510.5 1038.8,512.0 1040.3,513.6 1041.8,515.3 1043.3,517.0 1044.8,518.7 1046.3,520.5 1047.8,522.4 1049.3,524.4 1050.8,526.4 1052.3,528.4 1053.8,530.6 1055.3,532.8 1056.8,535.0 1058.3,537.3 1059.8,539.7 1061.3,542.2 1062.8,544.7 1064.3,547.3 1065.8,549.9 1067.3,552.8 1068.8,556.0 1070.3,559.3 1071.8,562.8 1073.3,566.3 1074.8,569.8 1076.3,573.1 1077.8,576.2 1079.3,579.0 1080.8,581.6 1082.3,584.2 1083.8,586.6 1085.3,589.0 1086.8,591.3 1088.3,593.5 1089.8,595.6 1091.3,597.7 1092.8,599.6 1094.3,601.4 1095.8,603.1 1097.3,604.7 1098.9,606.2 1100.4,607.6 1101.9,608.9 1103.4,610.0 1104.9,611.1 1106.4,612.1 1107.9,613.0 1109.4,613.9 1110.9,614.7 1112.4,615.5 1113.9,616.3 1115.4,617.1 1116.9,617.8 1118.4,618.6 1119.9,619.5 1121.4,620.3 1122.9,621.2 1124.4,622.1 1125.9,623.1 1127.4,624.1 1128.9,625.2 1130.4,626.4 1131.9,627.6 1133.4,628.9 1134.9,630.3 1136.4,631.7 1137.9,633.2 1139.4,634.8 1140.9,636.5 1142.4,638.3 1143.9,640.2 1145.4,642.2 1146.9,644.3 1148.4,646.5 1149.9,648.8 1151.4,651.2 1152.9,653.7 1154.4,656.2 1155.9,658.8 1157.4,661.5 1158.9,664.2 1160.4,667.0 1161.9,669.7 1163.4,672.5 1164.9,675.3 1166.4,678.0 1167.9,680.8 1169.4,683.5 1170.9,686.1 1172.4,688.7 1173.9,691.3 1175.4,693.8 1176.9,696.2 1178.4,698.5 1179.9,700.8 1181.4,703.0 1182.9,705.2 1184.4,707.3 1185.9,709.3 1187.4,711.3 1188.9,713.1 1190.4,715.0 1191.9,716.7 1193.4,718.4 1194.9,720.1 1196.4,721.6 1197.9,723.2 1199.4,724.7 1200.9,726.1 1202.4,727.5 1203.9,728.8 1205.4,730.0 1206.9,731.2 1208.4,732.3 1209.9,733.3 1211.4,734.2 1212.9,735.0 1214.4,735.8 1215.9,736.4 1217.4,737.0 1218.9,737.5 1220.4,737.9 1221.9,738.2 1223.4,738.4 1224.9,738.6 1226.4,738.7 1227.9,738.7 1229.4,738.7 1230.9,738.7 1232.4,738.7 1233.9,738.7 1235.4,738.6 1236.9,738.6 1238.5,738.6 1240.0,738.6 1241.5,738.7 1243.0,738.8 1244.5,738.9 1246.0,739.2 1247.5,739.5 1249.0,739.9 1250.5,740.4 1252.0,740.9 1253.5,741.6 1255.0,742.5 1256.5,743.4 1258.0,744.4 1259.5,745.5 1261.0,746.7 1262.5,747.9 1264.0,749.2 1265.5,750.6 1267.0,752.0 1268.5,753.5 1270.0,755.0 1271.5,756.5 1273.0,758.0 1274.5,759.6 1276.0,761.1 1277.5,762.7 1279.0,764.2 1280.5,765.7 1282.0,767.2 1283.5,768.6 1285.0,770.0 1286.5,771.4 1288.0,772.8 1289.5,774.1 1291.0,775.3 1292.5,776.5 1294.0,777.7 1295.5,778.7 1297.0,779.8 1298.5,780.7 1300.0,781.6 1301.5,782.4 1303.0,783.1 1304.5,783.7 1306.0,784.3 1307.5,784.8 1309.0,785.2 1310.5,785.6 1312.0,786.0 1313.5,786.3 1315.0,786.7 1316.5,787.0 1318.0,787.4 1319.5,787.8 1321.0,788.2 1322.5,788.6 1324.0,789.0 1325.5,789.4 1327.0,789.9 1328.5,790.3 1330.0,790.8 1331.5,791.2 1333.0,791.7 1334.5,792.1 1336.0,792.6 1337.5,793.1 1339.0,793.5 1340.5,794.0 1342.0,794.4 1343.5,794.9 1345.0,795.3 1346.5,795.7 1348.0,796.1 1349.5,796.5 1351.0,796.9 1352.5,797.3 1354.0,797.7 1355.5,798.1 1357.0,798.4 1358.5,798.8 1360.0,799.2 1361.5,799.5 1363.0,799.9 1364.5,800.2 1366.0,800.6 1367.5,800.9 1369.0,801.3 1370.5,801.6 1372.0,801.9 1373.5,802.3 1375.0,802.6 1376.5,803.0 1378.0,803.3 1379.6,803.7 1381.1,804.0 1382.6,804.4 1384.1,804.8 1385.6,805.1 1387.1,805.5 1388.6,805.9 1390.1,806.3 1391.6,806.7 1393.1,807.1 1394.6,807.5 1396.1,807.9 1397.6,808.3 1399.1,808.8 1400.6,809.2 1402.1,809.7 1403.6,810.2 1405.1,810.7 1406.6,811.2 1408.1,811.7 1409.6,812.2 1411.1,812.7 1412.6,813.2 1414.1,813.7 1415.6,814.3 1417.1,814.8 1418.6,815.2 1420.1,815.7 1421.6,816.2 1423.1,816.6 1424.6,817.0 1426.1,817.4 1427.6,817.8 1429.1,818.1 1430.6,818.5 1432.1,818.7 1433.6,819.0 1435.1,819.1 1436.6,819.3 1438.1,819.4 1439.6,819.5 1441.1,819.5 1442.6,819.5 1444.1,819.5 1445.6,819.5 1447.1,819.4 1448.6,819.3 1450.1,819.2 1451.6,819.1 1453.1,819.0 1454.6,818.9 1456.1,818.7 1457.6,818.6 1459.1,818.4 1460.6,818.2 1462.1,818.1 1463.6,817.9 1465.1,817.8 1466.6,817.6 1468.1,817.4 1469.6,817.2 1471.1,817.0 1472.6,816.8 1474.1,816.6 1475.6,816.3 1477.1,815.9 1478.6,815.6 1480.1,815.2 1481.6,814.7 1483.1,814.3 1484.6,813.7 1486.1,813.1 1487.6,812.4 1489.1,811.7 1490.6,810.9 1492.1,810.1 1493.6,809.2 1495.1,808.2 1496.6,807.3 1498.1,806.3 1499.6,805.3 1501.1,804.4 1502.6,803.4 1504.1,802.5 1505.6,801.6 1507.1,800.8 1508.6,800.1 1510.1,799.4 1511.6,798.8 1513.1,798.3 1514.6,797.9 1516.1,797.6 1517.6,797.4 1519.1,797.3 1520.7,797.3 1522.2,797.4 1523.7,797.5 1525.2,797.7 1526.7,797.9 1528.2,798.2 1529.7,798.5 1531.2,798.8 1532.7,799.1 1534.2,799.4 1535.7,799.7 1537.2,800.0 1538.7,800.2 1540.2,800.5 1541.7,800.7 1543.2,800.9 1544.7,801.1 1546.2,801.3 1547.7,801.4 1549.2,801.5 1550.7,801.6 1552.2,801.7 1553.7,801.8 1555.2,801.9 1556.7,801.9 1558.2,802.0 1559.7,802.0 1561.2,802.1 1562.7,802.1 1564.2,802.1 1565.7,802.1 1567.2,802.1 1568.7,802.1 1570.2,802.1 1571.7,802.1 1573.2,802.1 1574.7,802.0 1576.2,802.0 1577.7,802.0 1579.2,802.0 1580.7,802.0 1582.2,802.0 1583.7,802.0 1585.2,802.0 1586.7,802.0 1588.2,802.0 1589.7,802.0 1591.2,802.1 1592.7,802.1 1594.2,802.2 1595.7,802.2 1597.2,802.3 1598.7,802.4 1600.2,802.5 1601.7,802.6 1603.2,802.7 1604.7,802.9 1606.2,803.0 1607.7,803.2 1609.2,803.3 1610.7,803.5 1612.2,803.7 1613.7,803.9 1615.2,804.1 1616.7,804.3 1618.2,804.5 1619.7,804.7 1621.2,804.9 1622.7,805.2 1624.2,805.4 1625.7,805.7 1627.2,806.0 1628.7,806.2 1630.2,806.5 1631.7,806.8 1633.2,807.1 1634.7,807.3 1636.2,807.6 1637.7,807.9 1639.2,808.2 1640.7,808.4 1642.2,808.7 1643.7,808.9 1645.2,809.2 1646.7,809.4 1648.2,809.6 1649.7,809.9 1651.2,810.1 1652.7,810.2 1654.2,810.4 1655.7,810.5 1657.2,810.7 1658.7,810.8 1660.2,810.9 1661.8,810.9 1663.3,811.0 1664.8,811.0 1666.3,811.0 1667.8,810.9 1669.3,810.8 1670.8,810.7 1672.3,810.6 1673.8,810.4 1675.3,810.2 1676.8,810.0 1678.3,809.7 1679.8,809.4 1681.3,809.1 1682.8,808.7 1684.3,808.3 1685.8,807.9 1687.3,807.4 1688.8,807.0 1690.3,806.6 1691.8,806.2 1693.3,805.8 1694.8,805.5 1696.3,805.1 1697.8,804.9 1699.3,804.6 1700.8,804.5 1702.3,804.3 1703.8,804.3 1705.3,804.3 1706.8,804.4 1708.3,804.6 1709.8,804.8 1711.3,805.0 1712.8,805.2 1714.3,805.5 1715.8,805.8 1717.3,806.1 1718.8,806.3 1720.3,806.5 1721.8,806.7 1723.3,806.8 1724.8,806.9 1726.3,806.9 1727.8,806.8 1729.3,806.6 1730.8,806.4 1734.8,805.0"/>
<path class="c" stroke="#ff0000" d="M38.1,854.3 42.1,854.9 43.6,855.1 45.1,855.3 46.6,855.6 48.1,855.8 49.6,856.1 51.1,856.4 52.6,856.7 54.1,857.0 55.6,857.3 57.1,857.6 58.6,857.9 60.1,858.3 61.6,858.6 63.1,859.0 64.6,859.4 66.1,859.7 67.6,860.2 69.1,860.6 70.6,861.0 72.1,861.4 73.6,861.9 75.1,862.4 76.6,862.8 78.1,863.3 79.6,863.8 81.1,864.3 82.6,864.9 84.1,865.4 85.6,866.0 87.1,866.5 88.6,867.0 90.1,867.6 91.6,868.0 93.1,868.5 94.6,868.9 96.1,869.3 97.6,869.6 99.1,869.9 100.6,869.9 102.1,869.8 103.6,869.5 105.1,869.0 106.6,868.2 108.1,867.3 109.6,866.2 111.1,865.0 112.7,863.7 114.2,862.4 115.7,861.1 117.2,859.8 118.7,858.6 120.2,857.3 121.7,856.1 123.2,855.0 124.7,853.8 126.2,852.8 127.7,851.8 129.2,851.0 130.7,850.2 132.2,849.5 133.7,849.0 135.2,848.5 136.7,848.3 138.2,848.1 139.7,848.1 141.2,848.3 142.7,848.6 144.2,849.1 145.7,849.7 147.2,850.5 148.7,851.3 150.2,852.2 151.7,853.2 153.2,854.3 154.7,855.4 156.2,856.6 157.7,857.7 159.2,858.9 160.7,860.1 162.2,861.2 163.7,862.4 165.2,863.6 166.7,864.7 168.2,865.9 169.7,867.0 171.2,868.2 172.7,869.3 174.2,870.4 175.7,871.5 177.2,872.6 178.7,873.7 180.2,874.7 181.7,875.7 183.2,876.8 184.7,877.8 186.2,878.7 187.7,879.7 189.2,880.6 190.7,881.5 192.2,882.4 193.7,883.2 195.2,884.0 196.7,884.8 198.2,885.6 199.7,886.3 201.2,887.0 202.7,887.6 204.2,888.2 205.7,888.8 207.2,889.3 208.7,889.8 210.2,890.2 211.7,890.5 213.2,890.8 214.7,891.0 216.2,891.2 217.7,891.2 219.2,891.2 220.7,891.1 222.2,891.0 223.7,890.7 225.2,890.4 226.7,889.9 228.2,889.4 229.7,888.8 231.2,888.1 232.7,887.2 234.2,886.3 235.7,885.3 237.2,884.3 238.7,883.1 240.2,881.9 241.7,880.7 243.2,879.4 244.7,878.1 246.2,876.7 247.7,875.4 249.2,874.0 250.7,872.6 252.2,871.2 253.8,869.9 255.3,868.5 256.8,867.2 258.3,865.9 259.8,864.6 261.3,863.3 262.8,862.1 264.3,861.0 265.8,859.9 267.3,858.8 268.8,857.9 270.3,857.0 271.8,856.2 273.3,855.4 274.8,854.8 276.3,854.3 277.8,853.8 279.3,853.5 280.8,853.2 282.3,853.1 283.8,853.0 285.3,853.0 286.8,853.1 288.3,853.2 289.8,853.4 291.3,853.7 292.8,854.0 294.3,854.4 295.8,854.9 297.3,855.4 298.8,855.9 300.3,856.5 301.8,857.1 303.3,857.7 304.8,858.3 306.3,859.0 307.8,859.7 309.3,860.4 310.8,861.1 312.3,861.8 313.8,862.4 315.3,863.1 316.8,863.8 318.3,864.4 319.8,865.1 321.3,865.9 322.8,866.9 324.3,868.0 325.8,869.4 327.3,870.8 328.8,872.3 330.3,873.8 331.8,875.3 333.3,876.7 334.8,878.0 336.3,879.2 337.8,880.4 339.3,881.5 340.8,882.4 342.3,883.3 343.8,884.0 345.3,884.7 346.8,885.2 348.3,885.7 349.8,886.0 351.3,886.2 352.8,886.3 354.3,886.3 355.8,886.3 357.3,886.1 358.8,885.8 360.3,885.4 361.8,884.9 363.3,884.3 364.8,883.6 366.3,882.8 367.8,881.9 369.3,880.9 370.8,879.8 372.3,878.6 373.8,877.3 375.3,875.9 376.8,874.4 378.3,872.8 379.8,871.2 381.3,869.6 382.8,867.9 384.3,866.2 385.8,864.6 387.3,863.0 388.8,861.5 390.3,860.0 391.8,858.7 393.3,857.5 394.9,856.5 396.4,855.6 397.9,854.9 399.4,854.4 400.9,854.1 402.4,853.8 403.9,853.8 405.4,853.8 406.9,854.0 408.4,854.3 409.9,854.6 411.4,855.1 412.9,855.6 414.4,856.2 415.9,856.8 417.4,857.5 418.9,858.2 420.4,858.9 421.9,859.7 423.4,860.6 424.9,861.6 426.4,862.5 427.9,863.4 429.4,864.3 430.9,864.9 432.4,865.4 433.9,865.8 435.4,866.1 436.9,866.3 438.4,866.5 439.9,866.5 441.4,866.5 442.9,866.4 444.4,866.2 445.9,866.0 447.4,865.7 448.9,865.3 450.4,864.8 451.9,864.2 453.4,863.5 454.9,862.6 456.4,861.7 457.9,860.8 459.4,859.7 460.9,858.5 462.4,856.9 463.9,855.0 465.4,852.5 466.9,849.5 468.4,846.1 469.9,842.4 471.4,838.4 472.9,834.3 474.4,830.2 475.9,826.1 477.4,821.8 478.9,817.4 480.4,813.0 481.9,808.7 483.4,804.7 484.9,800.9 486.4,797.4 487.9,793.6 489.4,789.6 490.9,785.3 492.4,780.7 493.9,775.8 495.4,770.4 496.9,764.6 498.4,758.5 499.9,752.3 501.4,746.1 502.9,740.0 504.4,734.3 505.9,728.8 507.4,723.6 508.9,718.8 510.4,714.3 511.9,710.1 513.4,706.3 514.9,702.8 516.4,699.6 517.9,696.6 519.4,693.8 520.9,691.4 522.4,689.2 523.9,687.2 525.4,685.5 526.9,684.0 528.4,682.7 529.9,681.7 531.4,680.9 532.9,680.4 534.4,680.0 536.0,679.9 537.5,679.9 539.0,680.2 540.5,680.7 542.0,681.3 543.5,682.2 545.0,683.2 546.5,684.4 548.0,685.8 549.5,687.3 551.0,689.0 552.5,690.8 554.0,692.8 555.5,694.8 557.0,696.9 558.5,699.1 560.0,701.4 561.5,703.6 563.0,705.9 564.5,708.2 566.0,710.4 567.5,712.6 569.0,714.8 570.5,716.9 572.0,718.9 573.5,720.9 575.0,722.8 576.5,724.6 578.0,726.3 579.5,728.0 581.0,729.5 582.5,731.0 584.0,732.4 585.5,733.7 587.0,734.9 588.5,736.0 590.0,737.0 591.5,738.0 593.0,738.9 594.5,739.9 596.0,741.0 597.5,742.2 599.0,743.6 600.5,745.1 602.0,746.6 603.5,748.2 605.0,749.8 606.5,751.2 608.0,752.4 609.5,753.4 611.0,754.1 612.5,754.7 614.0,755.1 615.5,755.4 617.0,755.5 618.5,755.6 620.0,755.5 621.5,755.3 623.0,754.8 624.5,754.0 626.0,752.9 627.5,751.5 629.0,749.9 630.5,748.1 632.0,746.2 633.5,744.1 635.0,741.8 636.5,739.3 638.0,736.4 639.5,733.2 641.0,729.9 642.5,726.6 644.0,723.5 645.5,720.5 647.0,717.6 648.5,714.8 650.0,712.0 651.5,709.1 653.0,706.3 654.5,703.4 656.0,700.6 657.5,697.8 659.0,695.0 660.5,692.3 662.0,689.6 663.5,687.1 665.0,684.6 666.5,682.2 668.0,679.5 669.5,676.9 671.0,674.2 672.5,671.6 674.0,669.2 675.6,667.0 677.1,664.9 678.6,663.1 680.1,661.6 681.6,660.2 683.1,658.8 684.6,657.6 686.1,656.4 687.6,655.3 689.1,654.2 690.6,653.2 692.1,652.3 693.6,651.5 695.1,650.7 696.6,650.0 698.1,649.4 699.6,648.8 701.1,648.3 702.6,647.9 704.1,647.5 705.6,647.2 707.1,647.0 708.6,646.8 710.1,646.6 711.6,646.6 713.1,646.6 714.6,646.6 716.1,646.7 717.6,646.9 719.1,647.1 720.6,647.4 722.1,647.7 723.6,648.1 725.1,648.6 726.6,649.1 728.1,649.6 729.6,650.2 731.1,650.8 732.6,651.4 734.1,652.0 735.6,652.6 737.1,653.1 738.6,653.6 740.1,653.9 741.6,654.1 743.1,654.3 744.6,654.2 746.1,654.1 747.6,653.8 749.1,653.3 750.6,652.6 752.1,651.8 753.6,651.0 755.1,650.1 756.6,649.2 758.1,648.1 759.6,647.0 761.1,645.6 762.6,644.0 764.1,642.0 765.6,639.7 767.1,637.1 768.6,634.4 770.1,631.6 771.6,628.8 773.1,625.8 774.6,622.8 776.1,619.9 777.6,616.9 779.1,614.0 780.6,611.1 782.1,608.4 783.6,605.8 785.1,603.2 786.6,600.8 788.1,598.5 789.6,596.3 791.1,594.2 792.6,592.3 794.1,590.4 795.6,588.7 797.1,587.2 798.6,585.7 800.1,584.4 801.6,583.2 803.1,582.0 804.6,580.9 806.1,579.9 807.6,578.9 809.1,578.1 810.6,577.2 812.1,576.4 813.6,575.7 815.1,574.9 816.7,574.1 818.2,573.3 819.7,572.4 821.2,571.4 822.7,570.3 824.2,569.1 825.7,567.9 827.2,566.5 828.7,565.0 830.2,563.3 831.7,561.5 833.2,559.4 834.7,557.2 836.2,554.8 837.7,552.2 839.2,549.5 840.7,546.5 842.2,543.5 843.7,540.4 845.2,537.3 846.7,534.2 848.2,531.1 849.7,528.0 851.2,525.0 852.7,522.1 854.2,519.1 855.7,516.1 857.2,513.1 858.7,509.9 860.2,506.6 861.7,503.0 863.2,499.3 864.7,495.3 866.2,491.2 867.7,487.1 869.2,482.9 870.7,478.8 872.2,474.9 873.7,471.1 875.2,467.6 876.7,464.3 878.2,461.2 879.7,458.2 881.2,455.4 882.7,452.7 884.2,450.2 885.7,447.7 887.2,445.3 888.7,443.0 890.2,440.8 891.7,438.5 893.2,436.3 894.7,434.1 896.2,431.8 897.7,429.6 899.2,427.3 900.7,425.0 902.2,422.7 903.7,420.3 905.2,418.0 906.7,415.7 908.2,413.4 909.7,411.1 911.2,408.8 912.7,406.5 914.2,404.3 915.7,402.0 917.2,399.8 918.7,397.7 920.2,395.6 921.7,393.5 923.2,391.4 924.7,389.4 926.2,387.5 927.7,385.6 929.2,383.8 930.7,382.0 932.2,380.4 933.7,378.7 935.2,377.2 936.7,375.8 938.2,374.4 939.7,373.1 941.2,371.9 942.7,370.8 944.2,369.8 945.7,369.0 947.2,368.2 948.7,367.5 950.2,367.0 951.7,366.5 953.2,366.2 954.7,365.9 956.2,365.7 957.8,365.6 959.3,365.6 960.8,365.7 962.3,365.8 963.8,366.0 965.3,366.3 966.8,366.6 968.3,366.9 969.8,367.3 971.3,367.8 972.8,368.2 974.3,368.7 975.8,369.2 977.3,369.7 978.8,370.3 980.3,370.8 981.8,371.4 983.3,371.9 984.8,372.4 986.3,373.0 987.8,373.5 989.3,373.9 990.8,374.4 992.3,374.8 993.8,375.2 995.3,375.5 996.8,375.7 998.3,376.0 999.8,376.1 1001.3,376.2 1002.8,376.2 1004.3,376.2 1005.8,376.1 1007.3,375.9 1008.8,375.7 1010.3,375.4 1011.8,375.1 1013.3,374.7 1014.8,374.4 1016.3,373.9 1017.8,373.5 1019.3,373.1 1020.8,372.7 1022.3,372.3 1023.8,371.9 1025.3,371.6 1026.8,371.2 1028.3,370.9 1029.8,370.6 1031.3,370.4 1032.8,370.1 1034.3,370.0 1035.8,369.8 1037.3,369.7 1038.8,369.7 1040.3,369.7 1041.8,369.8 1043.3,370.0 1044.8,370.2 1046.3,370.5 1047.8,370.9 1049.3,371.4 1050.8,372.0 1052.3,372.7 1053.8,373.5 1055.3,374.4 1056.8,375.5 1058.3,376.7 1059.8,378.0 1061.3,379.5 1062.8,381.2 1064.3,382.9 1065.8,384.9 1067.3,386.9 1068.8,389.1 1070.3,391.4 1071.8,393.8 1073.3,396.2 1074.8,398.7 1076.3,401.2 1077.8,403.8 1079.3,406.4 1080.8,409.0 1082.3,411.5 1083.8,414.1 1085.3,416.6 1086.8,419.0 1088.3,421.4 1089.8,423.7 1091.3,425.9 1092.8,428.1 1094.3,430.2 1095.8,432.2 1097.3,434.2 1098.9,436.2 1100.4,438.1 1101.9,439.9 1103.4,441.7 1104.9,443.5 1106.4,445.2 1107.9,446.9 1109.4,448.6 1110.9,450.3 1112.4,452.0 1113.9,453.6 1115.4,455.2 1116.9,456.9 1118.4,458.5 1119.9,460.1 1121.4,461.8 1122.9,463.4 1124.4,465.1 1125.9,466.7 1127.4,468.4 1128.9,470.0 1130.4,471.7 1131.9,473.4 1133.4,475.1 1134.9,476.8 1136.4,478.5 1137.9,480.2 1139.4,481.9 1140.9,483.7 1142.4,485.5 1143.9,487.2 1145.4,489.0 1146.9,490.9 1148.4,492.7 1149.9,494.6 1151.4,496.5 1152.9,498.4 1154.4,500.3 1155.9,502.3 1157.4,504.2 1158.9,506.3 1160.4,508.3 1161.9,510.4 1163.4,512.5 1164.9,514.6 1166.4,516.7 1167.9,518.9 1169.4,521.1 1170.9,523.3 1172.4,525.5 1173.9,527.6 1175.4,529.8 1176.9,531.8 1178.4,533.9 1179.9,535.8 1181.4,537.7 1182.9,539.6 1184.4,541.3 1185.9,542.9 1187.4,544.4 1188.9,545.8 1190.4,547.0 1191.9,548.1 1193.4,549.1 1194.9,549.9 1196.4,550.6 1197.9,551.3 1199.4,551.8 1200.9,552.2 1202.4,552.6 1203.9,553.0 1205.4,553.2 1206.9,553.5 1208.4,553.7 1209.9,553.9 1211.4,554.0 1212.9,554.2 1214.4,554.4 1215.9,554.6 1217.4,554.8 1218.9,555.1 1220.4,555.3 1221.9,555.6 1223.4,556.0 1224.9,556.4 1226.4,556.8 1227.9,557.3 1229.4,557.8 1230.9,558.3 1232.4,558.9 1233.9,559.5 1235.4,560.2 1236.9,561.0 1238.5,561.7 1240.0,562.6 1241.5,563.5 1243.0,564.4 1244.5,565.4 1246.0,566.5 1247.5,567.6 1249.0,568.7 1250.5,569.9 1252.0,571.1 1253.5,572.4 1255.0,573.8 1256.5,575.2 1258.0,576.6 1259.5,578.1 1261.0,579.7 1262.5,581.2 1264.0,582.9 1265.5,584.6 1267.0,586.3 1268.5,588.1 1270.0,589.9 1271.5,591.8 1273.0,593.7 1274.5,595.7 1276.0,597.7 1277.5,599.8 1279.0,601.9 1280.5,604.0 1282.0,606.2 1283.5,608.5 1285.0,610.8 1286.5,613.1 1288.0,615.4 1289.5,617.7 1291.0,620.1 1292.5,622.4 1294.0,624.7 1295.5,627.1 1297.0,629.4 1298.5,631.7 1300.0,633.9 1301.5,636.2 1303.0,638.4 1304.5,640.5 1306.0,642.6 1307.5,644.6 1309.0,646.6 1310.5,648.5 1312.0,650.3 1313.5,652.1 1315.0,653.9 1316.5,655.6 1318.0,657.2 1319.5,658.8 1321.0,660.3 1322.5,661.8 1324.0,663.3 1325.5,664.7 1327.0,666.1 1328.5,667.4 1330.0,668.7 1331.5,670.0 1333.0,671.3 1334.5,672.5 1336.0,673.7 1337.5,674.9 1339.0,676.1 1340.5,677.3 1342.0,678.4 1343.5,679.6 1345.0,680.7 1346.5,681.9 1348.0,683.0 1349.5,684.1 1351.0,685.3 1352.5,686.4 1354.0,687.5 1355.5,688.7 1357.0,689.8 1358.5,690.9 1360.0,692.1 1361.5,693.2 1363.0,694.3 1364.5,695.4 1366.0,696.5 1367.5,697.6 1369.0,698.7 1370.5,699.7 1372.0,700.8 1373.5,701.8 1375.0,702.8 1376.5,703.8 1378.0,704.8 1379.6,705.8 1381.1,706.7 1382.6,707.6 1384.1,708.5 1385.6,709.4 1387.1,710.2 1388.6,711.1 1390.1,711.9 1391.6,712.7 1393.1,713.5 1394.6,714.3 1396.1,715.2 1397.6,716.0 1399.1,716.8 1400.6,717.6 1402.1,718.4 1403.6,719.3 1405.1,720.1 1406.6,720.9 1408.1,721.8 1409.6,722.7 1411.1,723.6 1412.6,724.5 1414.1,725.4 1415.6,726.3 1417.1,727.2 1418.6,728.1 1420.1,728.9 1421.6,729.6 1423.1,730.3 1424.6,731.0 1426.1,731.5 1427.6,731.9 1429.1,732.3 1430.6,732.6 1432.1,732.8 1433.6,732.9 1435.1,733.0 1436.6,733.0 1438.1,732.9 1439.6,732.8 1441.1,732.6 1442.6,732.4 1444.1,732.1 1445.6,731.8 1447.1,731.5 1448.6,731.2 1450.1,730.9 1451.6,730.6 1453.1,730.4 1454.6,730.2 1456.1,730.1 1457.6,730.1 1459.1,730.1 1460.6,730.2 1462.1,730.4 1463.6,730.6 1465.1,730.8 1466.6,731.1 1468.1,731.4 1469.6,731.8 1471.1,732.1 1472.6,732.5 1474.1,732.9 1475.6,733.2 1477.1,733.6 1478.6,734.0 1480.1,734.3 1481.6,734.7 1483.1,735.1 1484.6,735.4 1486.1,735.8 1487.6,736.1 1489.1,736.4 1490.6,736.7 1492.1,737.0 1493.6,737.3 1495.1,737.6 1496.6,737.9 1498.1,738.1 1499.6,738.3 1501.1,738.5 1502.6,738.7 1504.1,738.9 1505.6,739.0 1507.1,739.2 1508.6,739.3 1510.1,739.4 1511.6,739.5 1513.1,739.7 1514.6,739.8 1516.1,739.9 1517.6,740.1 1519.1,740.2 1520.7,740.4 1522.2,740.6 1523.7,740.8 1525.2,741.1 1526.7,741.4 1528.2,741.7 1529.7,742.0 1531.2,742.4 1532.7,742.9 1534.2,743.4 1535.7,743.9 1537.2,744.4 1538.7,744.9 1540.2,745.4 1541.7,745.9 1543.2,746.3 1544.7,746.7 1546.2,747.1 1547.7,747.3 1549.2,747.5 1550.7,747.6 1552.2,747.7 1553.7,747.7 1555.2,747.7 1556.7,747.6 1558.2,747.4 1559.7,747.2 1561.2,747.0 1562.7,746.8 1564.2,746.5 1565.7,746.2 1567.2,745.9 1568.7,745.6 1570.2,745.3 1571.7,745.0 1573.2,744.7 1574.7,744.4 1576.2,744.1 1577.7,743.9 1579.2,743.6 1580.7,743.4 1582.2,743.2 1583.7,743.0 1585.2,742.8 1586.7,742.7 1588.2,742.6 1589.7,742.5 1591.2,742.5 1592.7,742.5 1594.2,742.5 1595.7,742.5 1597.2,742.6 1598.7,742.8 1600.2,742.9 1601.7,743.1 1603.2,743.4 1604.7,743.7 1606.2,744.1 1607.7,744.5 1609.2,744.9 1610.7,745.4 1612.2,746.0 1613.7,746.6 1615.2,747.2 1616.7,747.9 1618.2,748.7 1619.7,749.5 1621.2,750.3 1622.7,751.1 1624.2,751.9 1625.7,752.7 1627.2,753.4 1628.7,754.2 1630.2,754.8 1631.7,755.5 1633.2,756.0 1634.7,756.5 1636.2,756.9 1637.7,757.3 1639.2,757.5 1640.7,757.6 1642.2,757.6 1643.7,757.5 1645.2,757.3 1646.7,757.0 1648.2,756.7 1649.7,756.4 1651.2,756.0 1652.7,755.6 1654.2,755.1 1655.7,754.7 1657.2,754.2 1658.7,753.8 1660.2,753.4 1661.8,753.1 1663.3,752.8 1664.8,752.5 1666.3,752.3 1667.8,752.2 1669.3,752.2 1670.8,752.3 1672.3,752.5 1673.8,752.8 1675.3,753.2 1676.8,753.8 1678.3,754.5 1679.8,755.3 1681.3,756.2 1682.8,757.1 1684.3,758.2 1685.8,759.3 1687.3,760.4 1688.8,761.6 1690.3,762.8 1691.8,764.1 1693.3,765.3 1694.8,766.5 1696.3,767.7 1697.8,768.9 1699.3,770.1 1700.8,771.2 1702.3,772.2 1703.8,773.2 1705.3,774.1 1706.8,774.9 1708.3,775.7 1709.8,776.3 1711.3,776.8 1712.8,777.2 1714.3,777.4 1715.8,777.5 1717.3,777.5 1718.8,777.3 1720.3,777.1 1721.8,776.7 1723.3,776.3 1724.8,775.8 1726.3,775.3 1727.8,774.7 1729.3,774.2 1730.8,773.6 1734.8,772.1"/>
</g>
<path class="ax" d="M324.0,15.3V938.7"/>
<path class="ax" d="M41.1,867.4H1733.9"/>
<path class="ax" stroke-width="3" d="M311.8,16.9H324.0"/>
<path class="ax" stroke-width="3" d="M311.8,229.7H324.0"/>
<path class="ax" stroke-width="3" d="M311.8,442.6H324.0"/>
<path class="ax" stroke-width="3" d="M311.8,654.8H324.0"/>
<path class="ax" stroke-width="3" d="M311.8,937.1H324.0"/>
<path class="ax" stroke-width="3" d="M42.6,867.4V886.3"/>
<path class="ax" stroke-width="3" d="M605.8,867.4V886.3"/>
<path class="ax" stroke-width="3" d="M887.3,867.4V886.3"/>
<path class="ax" stroke-width="3" d="M1168.9,867.4V886.3"/>
<path class="ax" stroke-width="3" d="M1450.4,867.4V886.3"/>
<path class="ax" stroke-width="3" d="M1732.0,867.4V886.3"/>
<text class="b" transform="translate(304.8,29.2) scale(1,1.045)" text-anchor="end">12</text>
<text class="b" transform="translate(304.8,241.9) scale(1,1.045)" text-anchor="end">9</text>
<text class="b" transform="translate(304.8,454.5) scale(1,1.045)" text-anchor="end">6</text>
<text class="b" transform="translate(304.8,667.2) scale(1,1.045)" text-anchor="end">3</text>
<text class="b" transform="translate(303.3,949.6) scale(1,1.045)" text-anchor="end">-1</text>
<text class="b" transform="translate(42.6,925.2) scale(1,1.045)" text-anchor="middle">-200</text>
<text class="b" transform="translate(605.8,925.2) scale(1,1.045)" text-anchor="middle">200</text>
<text class="b" transform="translate(887.3,925.2) scale(1,1.045)" text-anchor="middle">400</text>
<text class="b" transform="translate(1168.9,925.2) scale(1,1.045)" text-anchor="middle">600</text>
<text class="b" transform="translate(1450.4,925.2) scale(1,1.045)" text-anchor="middle">800</text>
<text class="b" transform="translate(1732.0,925.2) scale(1,1.045)" text-anchor="middle">1000</text>
<text class="b" style="font-size:30.5px" x="890.7" y="974.4" text-anchor="middle">Time (ms)</text>
<text class="b" style="font-size:30.5px" transform="translate(232.9,440.2) rotate(-90)" text-anchor="middle">Pz (µV)</text>
<path class="c" stroke="#00ff00" stroke-width="8.4" stroke-dasharray="28.1 5.9 20 10" d="M1290.9,94.6H1337.1"/>
<text class="l" x="1339.3" y="109.7">Controls: Frequent</text>
<path class="c" stroke="#0000ff" stroke-width="8.4" stroke-dasharray="28.1 5.9 20 10" d="M1290.9,143.3H1337.1"/>
<text class="l" x="1339.3" y="158.4">Controls: Equiprobable</text>
<path class="c" stroke="#ff0000" stroke-width="8.4" stroke-dasharray="28.1 5.9 20 10" d="M1290.9,192.0H1337.1"/>
<text class="l" x="1339.3" y="207.1">Controls: Rare</text>
<path class="c" stroke="#00ff00" stroke-width="8.4" d="M1290.9,240.7H1337.1"/>
<text class="l" x="1339.3" y="255.8">Patients: Frequent</text>
<path class="c" stroke="#0000ff" stroke-width="8.4" d="M1290.9,289.4H1337.1"/>
<text class="l" x="1339.3" y="304.5">Patients: Equiprobable</text>
<path class="c" stroke="#ff0000" stroke-width="8.4" d="M1290.9,338.1H1337.1"/>
<text class="l" x="1339.3" y="353.2">Patients: Rare</text>
</svg>
</body></html>
